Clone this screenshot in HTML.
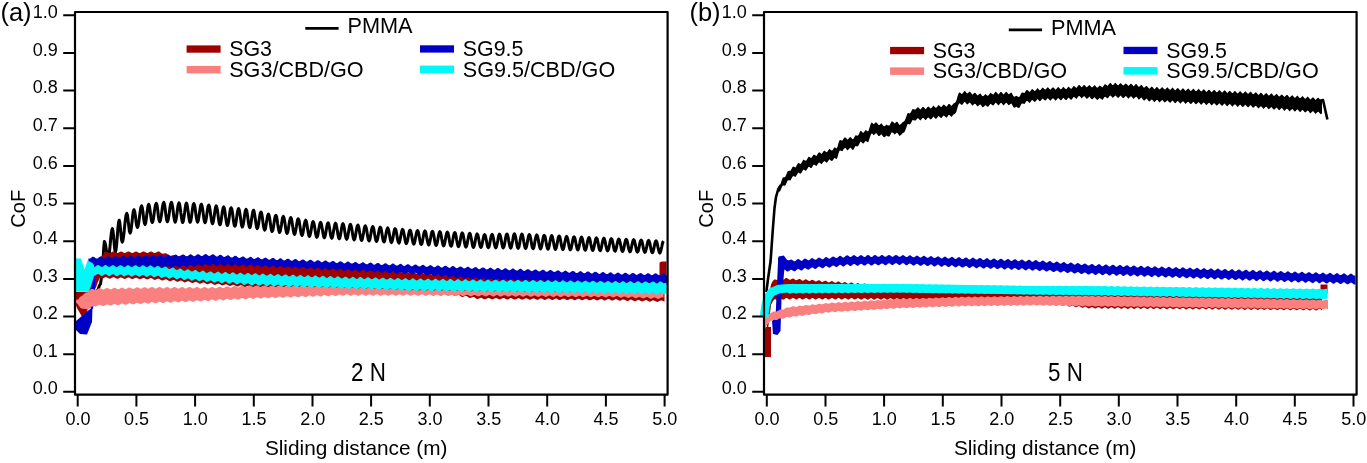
<!DOCTYPE html>
<html><head><meta charset="utf-8"><style>
html,body{margin:0;padding:0;background:#fff;width:1367px;height:463px;overflow:hidden}
svg{display:block;position:absolute;left:0;top:0;will-change:transform}
svg text{font-family:"Liberation Sans",sans-serif}
</style></head><body>
<svg width="1367" height="463" viewBox="0 0 1367 463">
<rect width="1367" height="463" fill="#fff"/>
<path d="M78,296 78.6,296 79.2,296 79.8,295.9 80.4,295.9 81,295.9 81.6,295.8 82.2,295.7 82.8,295.7 83.4,295.6 84,295.5 84.6,295.4 85.2,295.3 85.8,295.3 86.4,295.2 87,295.1 87.6,295.1 88.2,295.1 88.8,295 89.4,295 90,295 90.6,294.9 91.3,294.7 91.9,294.3 92.5,293.8 93.2,293.3 93.8,292.7 94.5,292.2 95.1,291.7 95.7,291.3 96.4,291.1 97,291 97.7,290.3 98.4,288.6 99.1,286.4 99.8,284.7 100.5,284 101.2,279 101.8,269 102.5,264 103.1,258.4 103.8,247.1 104.4,241.4 105,242.5 105.7,245.6 106.3,249.7 106.9,253.8 107.6,256.9 108.2,258 108.8,256.5 109.4,252.5 110,246.6 110.6,240 111.2,234.1 111.8,230.1 112.4,228.6 113,230.8 113.6,236.7 114.2,243.9 114.8,249.8 115.4,252 116,249.9 116.7,244.1 117.3,236.1 117.9,228.2 118.6,222.3 119.2,220.2 119.8,222.3 120.4,227.8 121,234.6 121.6,240.1 122.2,242.2 122.9,240.8 123.5,236.8 124.2,231 124.8,224.6 125.5,218.8 126.1,214.8 126.8,213.4 127.5,215.3 128.1,220.2 128.8,226.3 129.4,231.2 130.1,233.1 130.8,231.5 131.4,227.2 132.1,221.4 132.7,215.5 133.3,211.3 134,209.7 134.7,211.4 135.4,215.8 136,221.4 136.7,225.8 137.4,227.5 138.1,226.1 138.8,222.1 139.5,216.7 140.2,211.3 140.9,207.3 141.6,205.9 142.3,207.7 143,212.3 143.6,218.1 144.3,222.7 145,224.5 145.6,223.2 146.2,219.5 146.8,214.5 147.5,209.4 148.1,205.7 148.7,204.4 149.4,206.1 150.1,210.7 150.8,216.2 151.5,220.8 152.2,222.5 152.9,221.2 153.6,217.7 154.2,212.9 154.9,208.1 155.6,204.6 156.3,203.3 157,205.1 157.7,209.7 158.3,215.4 159,220 159.7,221.8 160.4,220.5 161.1,217 161.8,212.1 162.4,207.2 163.1,203.7 163.8,202.4 164.5,204.3 165.2,209.1 165.9,215.1 166.6,219.9 167.3,221.8 168,220.5 168.7,217 169.4,212.1 170,207.2 170.7,203.7 171.4,202.4 172,203.7 172.7,207.3 173.3,212.2 173.9,217.2 174.6,220.8 175.2,222.1 175.8,220.8 176.5,217.3 177.1,212.5 177.7,207.6 178.4,204.1 179,202.8 179.6,204.1 180.2,207.7 180.8,212.7 181.5,217.6 182.1,221.2 182.7,222.5 183.3,221.2 183.9,217.6 184.6,212.8 185.2,207.9 185.8,204.4 186.4,203.1 187,204.4 187.6,207.9 188.3,212.7 188.9,217.5 189.5,221 190.1,222.3 190.8,221 191.4,217.6 192,212.9 192.6,208.2 193.2,204.8 193.9,203.6 194.5,204.8 195.1,208.2 195.7,212.8 196.3,217.4 197,220.8 197.6,222.1 198.2,220.9 198.8,217.6 199.5,213.1 200.1,208.6 200.7,205.4 201.3,204.2 201.9,205.4 202.6,208.8 203.2,213.4 203.8,218.1 204.4,221.5 205,222.7 205.7,221.5 206.3,218.3 206.9,213.9 207.5,209.5 208.1,206.2 208.8,205.1 209.4,206.3 210,209.7 210.6,214.4 211.3,219.1 211.9,222.5 212.5,223.7 213.1,222.6 213.7,219.3 214.4,214.8 215,210.4 215.6,207.1 216.2,205.9 216.8,207.2 217.5,210.7 218.1,215.4 218.7,220.1 219.3,223.5 220,224.8 220.6,223.6 221.2,220.3 221.8,215.8 222.4,211.3 223.1,208 223.7,206.8 224.3,208.1 224.9,211.5 225.5,216.2 226.2,220.8 226.8,224.3 227.4,225.5 228,224.3 228.7,221.1 229.3,216.6 229.9,212.1 230.5,208.9 231.1,207.7 231.8,208.9 232.4,212.3 233,217 233.6,221.6 234.2,225 234.9,226.2 235.5,225.1 236.1,221.8 236.7,217.4 237.3,213 238,209.7 238.6,208.5 239.2,209.8 239.8,213.1 240.5,217.7 241.1,222.4 241.7,225.7 242.3,227 242.9,225.8 243.6,222.6 244.2,218.2 244.8,213.8 245.4,210.6 246,209.4 246.7,210.6 247.3,214 247.9,218.5 248.5,223.1 249.2,226.5 249.8,227.7 250.4,226.5 251,223.3 251.6,219 252.3,214.6 252.9,211.4 253.5,210.2 254.1,211.5 254.7,214.8 255.4,219.4 256,224 256.6,227.4 257.2,228.6 257.8,227.5 258.5,224.5 259.1,220.3 259.7,216.2 260.3,213.1 261,212 261.6,213.2 262.2,216.5 262.8,221.1 263.4,225.6 264.1,228.9 264.7,230.1 265.3,229.1 265.9,226.1 266.5,222.1 267.2,218 267.8,215.1 268.4,214 269,215.1 269.7,218.4 270.3,222.7 270.9,227.1 271.5,230.3 272.1,231.5 272.8,230.4 273.4,227.4 274,223.4 274.6,219.3 275.2,216.4 275.9,215.3 276.5,216.4 277.1,219.6 277.7,223.9 278.4,228.2 279,231.3 279.6,232.5 280.2,231.4 280.8,228.4 281.5,224.4 282.1,220.4 282.7,217.4 283.3,216.4 283.9,217.5 284.6,220.6 285.2,224.9 285.8,229.2 286.4,232.3 287,233.4 287.7,232.4 288.3,229.4 288.9,225.4 289.5,221.5 290.2,218.5 290.8,217.5 291.4,218.6 292,221.7 292.6,225.9 293.3,230.2 293.9,233.3 294.5,234.4 295.1,233.4 295.7,230.5 296.4,226.6 297,222.7 297.6,219.8 298.2,218.8 298.9,219.9 299.5,223 300.1,227.1 300.7,231.3 301.3,234.3 302,235.4 302.6,234.4 303.2,231.6 303.8,227.8 304.4,224 305.1,221.2 305.7,220.2 306.3,221.3 306.9,224.3 307.5,228.3 308.2,232.4 308.8,235.4 309.4,236.4 310,235.4 310.7,232.7 311.3,229 311.9,225.3 312.5,222.6 313.1,221.6 313.8,222.7 314.4,225.6 315,229.5 315.6,233.4 316.2,236.3 316.9,237.3 317.5,236.3 318.1,233.6 318.7,229.8 319.4,226.1 320,223.3 320.6,222.3 321.2,223.4 321.8,226.2 322.5,230.1 323.1,234 323.7,236.8 324.3,237.8 324.9,236.8 325.6,234.1 326.2,230.3 326.8,226.5 327.4,223.8 328.1,222.8 328.7,223.8 329.3,226.7 329.9,230.6 330.5,234.4 331.2,237.3 331.8,238.3 332.4,237.3 333,234.5 333.6,230.8 334.3,227 334.9,224.2 335.5,223.2 336.1,224.3 336.7,227.1 337.4,231 338,234.9 338.6,237.8 339.2,238.8 339.9,237.8 340.5,235 341.1,231.2 341.7,227.5 342.3,224.7 343,223.7 343.6,224.7 344.2,227.6 344.8,231.5 345.4,235.4 346.1,238.3 346.7,239.3 347.3,238.3 347.9,235.6 348.6,231.8 349.2,228.1 349.8,225.3 350.4,224.3 351,225.4 351.7,228.2 352.3,232.1 352.9,236 353.5,238.8 354.1,239.9 354.8,238.9 355.4,236.2 356,232.5 356.6,228.8 357.2,226 357.9,225 358.5,226.1 359.1,228.9 359.7,232.7 360.4,236.6 361,239.4 361.6,240.4 362.2,239.4 362.8,236.7 363.5,233.1 364.1,229.4 364.7,226.7 365.3,225.8 365.9,226.8 366.6,229.6 367.2,233.4 367.8,237.1 368.4,239.9 369.1,240.9 369.7,240 370.3,237.3 370.9,233.7 371.5,230.1 372.2,227.5 372.8,226.5 373.4,227.5 374,230.2 374.6,234 375.3,237.7 375.9,240.5 376.5,241.5 377.1,240.5 377.8,237.9 378.4,234.3 379,230.8 379.6,228.2 380.2,227.2 380.9,228.2 381.5,230.9 382.1,234.6 382.7,238.3 383.3,241 384,242 384.6,241.1 385.2,238.5 385.8,235 386.4,231.5 387.1,228.9 387.7,227.9 388.3,228.9 388.9,231.6 389.6,235.2 390.2,238.9 390.8,241.6 391.4,242.6 392,241.6 392.7,239.1 393.3,235.6 393.9,232.1 394.5,229.6 395.1,228.7 395.8,229.6 396.4,232.3 397,235.9 397.6,239.5 398.3,242.1 398.9,243.1 399.5,242.2 400.1,239.7 400.7,236.2 401.4,232.8 402,230.3 402.6,229.4 403.2,230.3 403.8,232.9 404.5,236.5 405.1,240.1 405.7,242.7 406.3,243.6 406.9,242.7 407.6,240.3 408.2,236.9 408.8,233.5 409.4,231 410.1,230.1 410.7,231 411.3,233.6 411.9,237.1 412.5,240.6 413.2,243.2 413.8,244.1 414.4,243.2 415,240.7 415.6,237.3 416.3,233.9 416.9,231.4 417.5,230.5 418.1,231.4 418.8,234 419.4,237.5 420,241 420.6,243.6 421.2,244.5 421.9,243.6 422.5,241.1 423.1,237.7 423.7,234.3 424.3,231.8 425,230.9 425.6,231.8 426.2,234.4 426.8,237.9 427.5,241.4 428.1,244 428.7,245 429.3,244 429.9,241.5 430.6,238.1 431.2,234.7 431.8,232.2 432.4,231.3 433,232.2 433.7,234.8 434.3,238.3 434.9,241.9 435.5,244.4 436.1,245.4 436.8,244.5 437.4,242 438,238.5 438.6,235.1 439.3,232.6 439.9,231.7 440.5,232.6 441.1,235.2 441.7,238.7 442.4,242.3 443,244.9 443.6,245.8 444.2,244.9 444.8,242.4 445.5,238.9 446.1,235.5 446.7,233 447.3,232.1 448,233 448.6,235.6 449.2,239.2 449.8,242.7 450.4,245.3 451.1,246.2 451.7,245.3 452.3,242.8 452.9,239.4 453.5,235.9 454.2,233.4 454.8,232.5 455.4,233.4 456,236 456.6,239.6 457.3,243.1 457.9,245.7 458.5,246.6 459.1,245.7 459.8,243.2 460.4,239.8 461,236.3 461.6,233.8 462.2,232.9 462.9,233.8 463.5,236.4 464.1,240 464.7,243.5 465.3,246.1 466,247.1 466.6,246.1 467.2,243.6 467.8,240.2 468.5,236.7 469.1,234.2 469.7,233.3 470.3,234.2 470.9,236.8 471.6,240.3 472.2,243.8 472.8,246.4 473.4,247.4 474,246.5 474.7,244 475.3,240.6 475.9,237.3 476.5,234.8 477.1,233.9 477.8,234.8 478.4,237.3 479,240.7 479.6,244.1 480.3,246.6 480.9,247.5 481.5,246.6 482.1,244.3 482.7,241 483.4,237.8 484,235.4 484.6,234.6 485.2,235.4 485.8,237.8 486.5,241.1 487.1,244.4 487.7,246.8 488.3,247.7 489,246.8 489.6,244.4 490.2,241 490.8,237.7 491.4,235.3 492.1,234.4 492.7,235.3 493.3,237.8 493.9,241.1 494.5,244.5 495.2,246.9 495.8,247.8 496.4,246.9 497,244.4 497.7,241 498.3,237.6 498.9,235.1 499.5,234.2 500.1,235.1 500.8,237.7 501.4,241.1 502,244.5 502.6,247 503.2,248 503.9,247 504.5,244.5 505.1,241 505.7,237.5 506.3,234.9 507,234 507.6,235 508.2,237.5 508.8,241.1 509.5,244.6 510.1,247.2 510.7,248.1 511.3,247.2 511.9,244.5 512.6,241 513.2,237.4 513.8,234.8 514.4,233.8 515,234.8 515.7,237.4 516.3,241.1 516.9,244.7 517.5,247.3 518.2,248.3 518.8,247.3 519.4,244.8 520,241.2 520.6,237.7 521.3,235.1 521.9,234.1 522.5,235.1 523.1,237.7 523.7,241.3 524.4,244.9 525,247.5 525.6,248.5 526.2,247.6 526.9,245 527.5,241.5 528.1,238 528.7,235.5 529.3,234.5 530,235.5 530.6,238.1 531.2,241.6 531.8,245.2 532.4,247.8 533.1,248.7 533.7,247.8 534.3,245.3 534.9,241.8 535.5,238.3 536.2,235.8 536.8,234.9 537.4,235.8 538,238.4 538.7,241.9 539.3,245.4 539.9,248 540.5,248.9 541.1,248 541.8,245.5 542.4,242.1 543,238.7 543.6,236.2 544.2,235.3 544.9,236.2 545.5,238.7 546.1,242.2 546.7,245.7 547.4,248.2 548,249.2 548.6,248.3 549.2,245.8 549.8,242.4 550.5,239 551.1,236.5 551.7,235.6 552.3,236.6 552.9,239.1 553.6,242.5 554.2,245.9 554.8,248.5 555.4,249.4 556,248.5 556.7,246 557.3,242.7 557.9,239.4 558.5,236.9 559.2,236 559.8,236.9 560.4,239.4 561,242.8 561.6,246.2 562.3,248.7 562.9,249.6 563.5,248.7 564.1,246.3 564.7,243 565.4,239.7 566,237.3 566.6,236.4 567.2,237.3 567.9,239.7 568.5,243.1 569.1,246.5 569.7,248.9 570.3,249.8 571,248.9 571.6,246.5 572.2,243.3 572.8,240 573.4,237.6 574.1,236.8 574.7,237.6 575.3,240.1 575.9,243.4 576.6,246.7 577.2,249.1 577.8,250 578.4,249.2 579,246.8 579.7,243.6 580.3,240.4 580.9,238 581.5,237.1 582.1,238 582.8,240.4 583.4,243.7 584,247 584.6,249.4 585.2,250.2 585.9,249.4 586.5,247.1 587.1,243.9 587.7,240.7 588.4,238.4 589,237.5 589.6,238.4 590.2,240.7 590.8,244 591.5,247.2 592.1,249.6 592.7,250.5 593.3,249.6 593.9,247.3 594.6,244.2 595.2,241 595.8,238.7 596.4,237.9 597.1,238.7 597.7,241.1 598.3,244.3 598.9,247.5 599.5,249.8 600.2,250.7 600.8,249.9 601.4,247.6 602,244.5 602.6,241.4 603.3,239.1 603.9,238.2 604.5,239.1 605.1,241.4 605.7,244.6 606.4,247.7 607,250.1 607.6,250.9 608.2,250.1 608.9,247.8 609.5,244.8 610.1,241.7 610.7,239.4 611.3,238.6 612,239.5 612.6,241.8 613.2,244.9 613.8,248 614.4,250.3 615.1,251.2 615.7,250.3 616.3,248.1 616.9,245.1 617.6,242 618.2,239.8 618.8,239 619.4,239.8 620,242.1 620.7,245.2 621.3,248.3 621.9,250.6 622.5,251.5 623.1,250.7 623.8,248.4 624.4,245.4 625,242.4 625.6,240.2 626.2,239.3 626.9,240.2 627.5,242.5 628.1,245.6 628.7,248.7 629.4,250.9 630,251.8 630.6,251 631.2,248.8 631.8,245.7 632.5,242.7 633.1,240.5 633.7,239.7 634.3,240.5 634.9,242.8 635.6,245.9 636.2,249 636.8,251.3 637.4,252.1 638.1,251.3 638.7,249.1 639.3,246.1 639.9,243.1 640.5,240.9 641.2,240.1 641.8,240.9 642.4,243.2 643,246.2 643.6,249.3 644.3,251.6 644.9,252.4 645.5,251.6 646.1,249.4 646.8,246.4 647.4,243.4 648,241.2 648.6,240.4 649.2,241.3 649.9,243.5 650.5,246.6 651.1,249.6 651.7,251.9 652.3,252.7 653,251.9 653.6,249.7 654.2,246.7 654.8,243.8 655.4,241.6 656.1,240.8 656.7,241.6 657.3,243.9 657.9,246.9 658.6,249.9 659.2,252.2 659.8,253 660.4,252.2 661,250 661.7,247.1 662.3,244.2 662.9,242 663.5,241.2" fill="none" stroke="#000" stroke-width="3" stroke-linejoin="round"/>
<path d="M84,292.1 85,292 86,292.1 87,292 88,291.4 89,288.8 90,286.2 91,284 92,281.9 93,280.2 94,278.4 95,275.1 96,271.3 97,267.3 98,263.4 99,260 100,257 101,256.6 102,256 103,254.9 104,253.3 105,251.7 106,251.5 107,251.7 108,252.3 109,252.9 110,253 111,252.6 112,252 113,251.6 114,251.6 115,252 116,252.6 117,253 118,252.9 119,252.3 120,251.7 121,251.5 122,251.7 123,252.3 124,252.9 125,253 126,252.6 127,252 128,251.6 129,251.6 130,252 131,252.6 132,253 133,252.9 134,252.3 135,251.7 136,251.5 137,251.7 138,252.3 139,252.9 140,253 141,252.6 142,252 143,251.6 144,251.6 145,252 146,252.6 147,253 148,252.9 149,252.3 150,251.7 151,251.5 152,251.7 153,252.3 154,252.9 155,253 156,252.6 157,252 158,251.6 159,251.6 160,252 161,252.9 162,253.6 163,253.7 164,253.5 165,253.2 166,253.2 167,253.8 168,254.7 169,255.5 170,255.9 171,255.8 172,255.5 173,255.1 174,255.2 175,255.7 176,256.4 177,256.8 178,256.8 179,256.3 180,255.8 181,255.6 182,256 183,256.6 184,257.2 185,257.4 186,257.1 187,256.6 188,256.2 189,256.3 190,256.8 191,257.5 192,257.9 193,257.9 194,257.4 195,256.9 196,256.7 197,257 198,257.7 199,258.3 200,258.5 201,258.2 202,257.6 203,257.2 204,257.3 205,257.8 206,258.5 207,258.9 208,258.8 209,258.3 210,257.8 211,257.6 212,257.9 213,258.5 214,259.1 215,259.3 216,259 217,258.5 218,258.1 219,258.1 220,258.6 221,259.3 222,259.7 223,259.6 224,259.2 225,258.6 226,258.4 227,258.7 228,259.4 229,260 230,260.1 231,259.8 232,259.3 233,258.9 234,258.9 235,259.4 236,260.1 237,260.5 238,260.5 239,260 240,259.5 241,259.3 242,259.6 243,260.2 244,260.8 245,261 246,260.7 247,260.1 248,259.7 249,259.8 250,260.3 251,260.9 252,261.4 253,261.3 254,260.8 255,260.3 256,260.1 257,260.4 258,261 259,261.6 260,261.8 261,261.5 262,260.9 263,260.5 264,260.6 265,261.1 266,261.8 267,262.2 268,262.1 269,261.6 270,261.1 271,260.9 272,261.2 273,261.9 274,262.4 275,262.6 276,262.3 277,261.8 278,261.4 279,261.4 280,261.9 281,262.6 282,263 283,262.9 284,262.5 285,261.9 286,261.7 287,262 288,262.7 289,263.3 290,263.4 291,263.1 292,262.6 293,262.2 294,262.3 295,262.8 296,263.4 297,263.8 298,263.8 299,263.3 300,262.8 301,262.6 302,262.9 303,263.5 304,264.1 305,264.3 306,264 307,263.4 308,263 309,263.1 310,263.6 311,264.2 312,264.7 313,264.6 314,264.1 315,263.6 316,263.4 317,263.7 318,264.3 319,264.9 320,265.1 321,264.8 322,264.2 323,263.9 324,263.9 325,264.4 326,265.1 327,265.5 328,265.4 329,264.9 330,264.4 331,264.2 332,264.5 333,265.2 334,265.7 335,265.9 336,265.6 337,265.1 338,264.7 339,264.7 340,265.2 341,265.9 342,266.3 343,266.2 344,265.8 345,265.2 346,265.1 347,265.5 348,266.1 349,266.8 350,267 351,266.8 352,266.2 353,265.9 354,266 355,266.6 356,267.3 357,267.7 358,267.7 359,267.3 360,266.8 361,266.7 362,267 363,267.7 364,268.3 365,268.6 366,268.3 367,267.8 368,267.5 369,267.6 370,268.1 371,268.8 372,269.3 373,269.3 374,268.9 375,268.4 376,268.2 377,268.6 378,269.3 379,269.9 380,270.1 381,269.9 382,269.4 383,269 384,269.1 385,269.7 386,270.4 387,270.9 388,270.8 389,270.4 390,269.9 391,269.8 392,270.2 393,270.8 394,271.5 395,271.7 396,271.5 397,271 398,270.6 399,270.7 400,271.3 401,272 402,272.4 403,272.4 404,272 405,271.5 406,271.4 407,271.7 408,272.4 409,273 410,273.3 411,273 412,272.5 413,272.1 414,272.2 415,272.7 416,273.4 417,273.8 418,273.7 419,273.2 420,272.7 421,272.5 422,272.8 423,273.5 424,274.1 425,274.2 426,273.9 427,273.4 428,273 429,273.1 430,273.6 431,274.2 432,274.7 433,274.6 434,274.1 435,273.6 436,273.4 437,273.7 438,274.4 439,274.9 440,275.1 441,274.8 442,274.3 443,273.9 444,273.9 445,274.5 446,275.1 447,275.5 448,275.5 449,275 450,274.5 451,274.3 452,274.6 453,275.2 454,275.8 455,276 456,275.7 457,275.2 458,274.8 459,274.8 460,275.3 461,276 462,276.4 463,276.4 464,275.9 465,275.4 466,275.2 467,275.5 468,276.1 469,276.7 470,276.9 471,276.6 472,276 473,275.7 474,275.7 475,276.2 476,276.9 477,277.3 478,277.2 479,276.8 480,276.2 481,276 482,276.3 483,276.9 484,277.5 485,277.7 486,277.3 487,276.8 488,276.3 489,276.4 490,276.9 491,277.5 492,277.9 493,277.8 494,277.3 495,276.7 496,276.5 497,276.8 498,277.4 499,278 500,278.2 501,277.8 502,277.3 503,276.8 504,276.9 505,277.4 506,278 507,278.4 508,278.3 509,277.8 510,277.2 511,277 512,277.3 513,277.9 514,278.5 515,278.7 516,278.3 517,277.8 518,277.3 519,277.4 520,277.9 521,278.5 522,278.9 523,278.8 524,278.3 525,277.7 526,277.5 527,277.8 528,278.4 529,279 530,279.2 531,278.8 532,278.3 533,277.8 534,277.9 535,278.4 536,279 537,279.4 538,279.3 539,278.8 540,278.2 541,278 542,278.3 543,278.9 544,279.4 545,279.6 546,279.2 547,278.6 548,278.2 549,278.2 550,278.7 551,279.3 552,279.7 553,279.6 554,279 555,278.5 556,278.3 557,278.5 558,279.1 559,279.7 560,279.8 561,279.5 562,278.9 563,278.4 564,278.4 565,278.9 566,279.5 567,279.9 568,279.8 569,279.3 570,278.7 571,278.5 572,278.8 573,279.3 574,279.9 575,280 576,279.7 577,279.1 578,278.7 579,278.7 580,279.1 581,279.8 582,280.1 583,280 584,279.5 585,279 586,278.7 587,279 588,279.6 589,280.1 590,280.3 591,279.9 592,279.3 593,278.9 594,278.9 595,279.4 596,280 597,280.4 598,280.3 599,279.8 600,279.2 601,279 602,279.2 603,279.8 604,280.4 605,280.5 606,280.2 607,279.6 608,279.1 609,279.2 610,279.6 611,280.2 612,280.6 613,280.5 614,280 615,279.4 616,279.2 617,279.5 618,280.1 619,280.6 620,280.7 621,280.4 622,279.8 623,279.4 624,279.4 625,279.9 626,280.5 627,280.9 628,280.7 629,280.2 630,279.7 631,279.4 632,279.7 633,280.3 634,280.8 635,281 636,280.6 637,280 638,279.6 639,279.6 640,280.1 641,280.7 642,281.1 643,281 644,280.5 645,279.9 646,279.7 647,279.9 648,280.5 649,281.1 650,281.2 651,280.9 652,280.3 653,279.8 654,279.9 655,280.3 656,281 657,281.3 658,281.2 659,280.7 660,280.1 661,279.9 662,280.2 663,280.8 664,281.3 664.5,281.4 664.5,301.7 664,301.6 663,301.1 662,300.6 661,300.4 660,300.7 659,301.3 658,301.8 657,301.9 656,301.5 655,300.9 654,300.4 653,300.3 652,300.8 651,301.3 650,301.7 649,301.5 648,301 647,300.3 646,300.1 645,300.3 644,300.8 643,301.3 642,301.4 641,301 640,300.4 639,299.9 638,299.9 637,300.3 636,300.9 635,301.2 634,301 633,300.5 632,299.9 631,299.6 630,299.8 629,300.4 628,300.9 627,301 626,300.6 625,299.9 624,299.4 623,299.4 622,299.8 621,300.4 620,300.7 619,300.6 618,300 617,299.4 616,299.1 615,299.3 614,299.9 613,300.4 612,300.6 611,300.2 610,299.6 609,299.1 608,299.1 607,299.5 606,300.1 605,300.5 604,300.4 603,299.8 602,299.2 601,299 600,299.2 599,299.8 598,300.3 597,300.4 596,300 595,299.4 594,299 593,299 592,299.4 591,300 590,300.3 589,300.2 588,299.7 587,299.1 586,298.8 585,299.1 584,299.6 583,300.1 582,300.3 581,299.9 580,299.3 579,298.8 578,298.8 577,299.3 576,299.8 575,300.2 574,300.1 573,299.5 572,298.9 571,298.7 570,298.9 569,299.5 568,300 567,300.1 566,299.8 565,299.1 564,298.7 563,298.7 562,299.1 561,299.7 560,300.1 559,299.9 558,299.4 557,298.8 556,298.5 555,298.8 554,299.3 553,299.9 552,300 551,299.6 550,299 549,298.5 548,298.5 547,299 546,299.6 545,299.9 544,299.8 543,299.2 542,298.6 541,298.4 540,298.6 539,299.2 538,299.7 537,299.8 536,299.5 535,298.8 534,298.4 533,298.4 532,298.8 531,299.4 530,299.8 529,299.6 528,299.1 527,298.5 526,298.2 525,298.5 524,299.1 523,299.6 522,299.7 521,299.3 520,298.7 519,298.2 518,298.2 517,298.7 516,299.3 515,299.6 514,299.5 513,298.9 512,298.4 511,298.1 510,298.3 509,298.9 508,299.4 507,299.5 506,299.2 505,298.6 504,298.1 503,298.1 502,298.5 501,299.1 500,299.5 499,299.3 498,298.8 497,298.2 496,298 495,298.2 494,298.8 493,299.3 492,299.4 491,299 490,298.4 489,298 488,297.9 487,298.4 486,299 485,299.3 484,299.2 483,298.7 482,298.1 481,297.8 480,298 479,298.5 478,298.9 477,298.9 476,298.4 475,297.7 474,297.1 473,296.9 472,297.3 471,297.7 470,298 469,297.7 468,297 467,296.3 466,295.9 465,296.1 464,296.5 463,296.9 462,296.9 461,296.4 460,295.7 459,295.1 458,294.9 457,295.3 456,295.7 455,296 454,295.7 453,295.1 452,294.3 451,294 450,294.1 449,294.5 448,294.9 447,294.9 446,294.4 445,293.7 444,293.1 443,293 442,293.3 441,293.8 440,294 439,293.8 438,293.1 437,292.5 436,292.1 435,292.3 434,292.8 433,293.2 432,293.3 431,292.8 430,292.1 429,291.6 428,291.5 427,291.9 426,292.4 425,292.6 424,292.4 423,291.8 422,291.1 421,290.8 420,291 419,291.5 418,291.9 417,291.9 416,291.5 415,290.8 414,290.2 413,290.2 412,290.5 411,291.1 410,291.4 409,291.2 408,290.7 407,290.1 406,289.8 405,290 404,290.5 403,291 402,291.1 401,290.7 400,290.1 399,289.6 398,289.5 397,290 396,290.5 395,290.8 394,290.7 393,290.1 392,289.5 391,289.2 390,289.4 389,290 388,290.5 387,290.6 386,290.2 385,289.5 384,289 383,289 382,289.4 381,290 380,290.3 379,290.1 378,289.6 377,288.9 376,288.7 375,288.9 374,289.4 373,289.9 372,290 371,289.6 370,289 369,288.5 368,288.4 367,288.8 366,289.4 365,289.7 364,289.6 363,289 362,288.4 361,288.1 360,288.3 359,288.9 358,289.3 357,289.4 356,289 355,288.4 354,287.9 353,287.9 352,288.3 351,288.8 350,289.2 349,289 348,288.4 347,287.8 346,287.5 345,287.7 344,288.3 343,288.8 342,289 341,288.6 340,288 339,287.5 338,287.5 337,287.9 336,288.5 335,288.9 334,288.7 333,288.2 332,287.6 331,287.3 330,287.6 329,288.2 328,288.7 327,288.8 326,288.4 325,287.8 324,287.3 323,287.3 322,287.8 321,288.4 320,288.7 319,288.6 318,288 317,287.4 316,287.2 315,287.4 314,288 313,288.5 312,288.6 311,288.2 310,287.6 309,287.2 308,287.2 307,287.6 306,288.2 305,288.5 304,288.4 303,287.9 302,287.3 301,287 300,287.2 299,287.8 298,288.3 297,288.4 296,288 295,287.4 294,286.9 293,286.9 292,287.4 291,287.9 290,288.3 289,288.1 288,287.6 287,287 286,286.7 285,286.9 284,287.5 283,288 282,288.1 281,287.7 280,287.1 279,286.6 278,286.6 277,287.1 276,287.6 275,288 274,287.8 273,287.3 272,286.7 271,286.4 270,286.6 269,287.2 268,287.7 267,287.8 266,287.4 265,286.8 264,286.3 263,286.3 262,286.8 261,287.3 260,287.7 259,287.5 258,287 257,286.4 256,286.1 255,286.3 254,286.9 253,287.4 252,287.5 251,287.1 250,286.5 249,286 248,285.9 247,286.3 246,286.8 245,287.1 244,286.9 243,286.3 242,285.6 241,285.3 240,285.5 239,286 238,286.5 237,286.5 236,286.1 235,285.4 234,284.9 233,284.8 232,285.2 231,285.7 230,286 229,285.8 228,285.2 227,284.5 226,284.2 225,284.4 224,284.9 223,285.3 222,285.4 221,284.9 220,284.3 219,283.7 218,283.7 217,284 216,284.6 215,284.9 214,284.7 213,284.1 212,283.4 211,283.1 210,283.2 209,283.7 208,284.2 207,284.2 206,283.8 205,283.1 204,282.6 203,282.5 202,282.9 201,283.4 200,283.7 199,283.4 198,282.8 197,282.2 196,281.8 195,282 194,282.5 193,282.9 192,283 191,282.5 190,281.9 189,281.3 188,281.2 187,281.6 186,282.1 185,282.4 184,282.2 183,281.6 182,280.9 181,280.6 180,280.7 179,281.2 178,281.7 177,281.7 176,281.3 175,280.6 174,280.1 173,280 172,280.4 171,280.9 170,281.2 169,280.9 168,280.3 167,279.7 166,279.3 165,279.5 164,280 163,280.4 162,280.5 161,280 160,279.4 159,278.8 158,278.7 157,279.1 156,279.6 155,279.9 154,279.7 153,279.1 152,278.4 151,278.1 150,278.2 149,278.8 148,279.3 147,279.4 146,279 145,278.4 144,277.9 143,277.9 142,278.4 141,278.9 140,279.3 139,279.1 138,278.6 137,278 136,277.7 135,277.9 134,278.5 133,279 132,279.1 131,278.7 130,278.1 129,277.6 128,277.6 127,278.1 126,278.6 125,279 124,278.8 123,278.3 122,277.7 121,277.4 120,277.6 119,278.2 118,278.7 117,278.8 116,278.4 115,277.8 114,277.3 113,277.3 112,277.8 111,278.3 110,278.7 109,278.5 108,278 107,277.4 106,277.1 105,277.3 104,277.9 103,278.4 102,278.5 101,278.1 100,277.5 99,279.4 98,281.8 97,284.6 96,287.6 95,289 94,289.9 93,290.3 92,290.7 91,294.8 90,299.4 89,304.3 88,308.5 87,312.3 86,315.6 85,315 84,314.6Z" fill="#9e0000"/>
<path d="M75.5,292 L85,292 L85,300 L86.5,316 L83,318.5 L77,308 L75.5,304Z" fill="#9e0000"/>
<path d="M659.5,263 Q660,261.5 662,261.5 H666.5 V280 H659.5Z" fill="#9e0000"/>
<path d="M76,321 L92.5,307 L92,322 L87,334.5 L80,334 L76,330Z" fill="#0000c4"/>
<path d="M90.5,308 L91,262 L95,262 L95,290 L93,309Z" fill="#0000c4"/>
<path d="M88.4,258.5 89.4,258.7 90.4,258.2 91.4,257.4 92.4,256.8 93.4,256.7 94.4,257.2 95.4,258 96.4,258.5 97.4,258.4 98.4,257.7 99.4,256.9 100.4,256.5 101.4,256.7 102.4,257.4 103.4,258.1 104.4,258.3 105.4,257.9 106.4,257.1 107.4,256.4 108.4,256.3 109.4,256.8 110.4,257.6 111.4,258.1 112.4,257.9 113.4,257.2 114.4,256.4 115.4,256 116.4,256.2 117.4,256.9 118.4,257.6 119.4,257.8 120.4,257.4 121.4,256.5 122.4,255.9 123.4,255.8 124.4,256.3 125.4,257.1 126.4,257.6 127.4,257.4 128.4,256.7 129.4,255.9 130.4,255.5 131.4,255.7 132.4,256.4 133.4,257.1 134.4,257.3 135.4,256.9 136.4,256 137.4,255.4 138.4,255.3 139.4,255.8 140.4,256.6 141.4,257 142.4,256.9 143.4,256.2 144.4,255.4 145.4,255 146.4,255.2 147.4,255.9 148.4,256.6 149.4,256.8 150.4,256.4 151.4,255.6 152.4,254.9 153.4,254.8 154.4,255.4 155.4,256.2 156.4,256.7 157.4,256.6 158.4,255.9 159.4,255.1 160.4,254.7 161.4,254.9 162.4,255.7 163.4,256.4 164.4,256.6 165.4,256.2 166.4,255.4 167.4,254.7 168.4,254.6 169.4,255.2 170.4,256 171.4,256.5 172.4,256.4 173.4,255.7 174.4,254.9 175.4,254.5 176.4,254.7 177.4,255.5 178.4,256.2 179.4,256.4 180.4,256 181.4,255.2 182.4,254.5 183.4,254.4 184.4,255 185.4,255.8 186.4,256.3 187.4,256.2 188.4,255.5 189.4,254.7 190.4,254.3 191.4,254.5 192.4,255.3 193.4,256 194.4,256.2 195.4,255.8 196.4,255 197.4,254.3 198.4,254.2 199.4,254.8 200.4,255.6 201.4,256.1 202.4,256 203.4,255.3 204.4,254.5 205.4,254.1 206.4,254.3 207.4,255.1 208.4,255.8 209.4,256 210.4,255.6 211.4,254.9 212.4,254.3 213.4,254.3 214.4,254.9 215.4,255.8 216.4,256.4 217.4,256.4 218.4,255.8 219.4,255.1 220.4,254.7 221.4,255.1 222.4,255.9 223.4,256.7 224.4,257 225.4,256.6 226.4,255.9 227.4,255.3 228.4,255.3 229.4,256 230.4,256.9 231.4,257.5 232.4,257.4 233.4,256.8 234.4,256.1 235.4,255.8 236.4,256.1 237.4,256.9 238.4,257.7 239.4,258.1 240.4,257.7 241.4,257 242.4,256.4 243.4,256.4 244.4,257 245.4,257.9 246.4,258.5 247.4,258.5 248.4,257.9 249.4,257.2 250.4,256.8 251.4,257.1 252.4,257.9 253.4,258.7 254.4,259 255.4,258.6 256.4,257.9 257.4,257.3 258.4,257.3 259.4,257.9 260.4,258.7 261.4,259.3 262.4,259.3 263.4,258.6 264.4,257.9 265.4,257.5 266.4,257.9 267.4,258.7 268.4,259.4 269.4,259.7 270.4,259.3 271.4,258.6 272.4,258 273.4,258 274.4,258.6 275.4,259.4 276.4,260 277.4,260 278.4,259.4 279.4,258.6 280.4,258.3 281.4,258.6 282.4,259.4 283.4,260.2 284.4,260.4 285.4,260.1 286.4,259.3 287.4,258.7 288.4,258.7 289.4,259.3 290.4,260.2 291.4,260.7 292.4,260.7 293.4,260.1 294.4,259.3 295.4,259 296.4,259.3 297.4,260.1 298.4,260.9 299.4,261.2 300.4,260.8 301.4,260 302.4,259.4 303.4,259.4 304.4,260 305.4,260.9 306.4,261.5 307.4,261.4 308.4,260.8 309.4,260.1 310.4,259.7 311.4,260 312.4,260.8 313.4,261.6 314.4,261.9 315.4,261.5 316.4,260.8 317.4,260.2 318.4,260.2 319.4,260.8 320.4,261.6 321.4,262.2 322.4,262.2 323.4,261.5 324.4,260.8 325.4,260.4 326.4,260.8 327.4,261.6 328.4,262.3 329.4,262.6 330.4,262.3 331.4,261.5 332.4,260.9 333.4,260.9 334.4,261.5 335.4,262.4 336.4,262.9 337.4,262.9 338.4,262.3 339.4,261.5 340.4,261.2 341.4,261.5 342.4,262.3 343.4,263.1 344.4,263.4 345.4,263 346.4,262.2 347.4,261.6 348.4,261.6 349.4,262.2 350.4,263.1 351.4,263.6 352.4,263.6 353.4,263 354.4,262.2 355.4,261.9 356.4,262.2 357.4,263 358.4,263.7 359.4,264 360.4,263.6 361.4,262.9 362.4,262.3 363.4,262.3 364.4,262.9 365.4,263.7 366.4,264.3 367.4,264.2 368.4,263.6 369.4,262.9 370.4,262.5 371.4,262.8 372.4,263.6 373.4,264.4 374.4,264.7 375.4,264.3 376.4,263.5 377.4,262.9 378.4,262.9 379.4,263.5 380.4,264.4 381.4,264.9 382.4,264.9 383.4,264.2 384.4,263.5 385.4,263.2 386.4,263.5 387.4,264.3 388.4,265 389.4,265.3 390.4,264.9 391.4,264.2 392.4,263.6 393.4,263.6 394.4,264.2 395.4,265 396.4,265.6 397.4,265.5 398.4,264.9 399.4,264.2 400.4,263.8 401.4,264.1 402.4,264.9 403.4,265.7 404.4,266 405.4,265.6 406.4,264.8 407.4,264.2 408.4,264.2 409.4,264.8 410.4,265.7 411.4,266.2 412.4,266.2 413.4,265.5 414.4,264.8 415.4,264.4 416.4,264.8 417.4,265.6 418.4,266.3 419.4,266.6 420.4,266.2 421.4,265.5 422.4,264.9 423.4,264.8 424.4,265.4 425.4,266.3 426.4,266.9 427.4,266.8 428.4,266.2 429.4,265.4 430.4,265.1 431.4,265.4 432.4,266.2 433.4,267 434.4,267.2 435.4,266.9 436.4,266.1 437.4,265.5 438.4,265.5 439.4,266.1 440.4,266.9 441.4,267.5 442.4,267.5 443.4,266.8 444.4,266.1 445.4,265.7 446.4,266 447.4,266.8 448.4,267.6 449.4,267.9 450.4,267.5 451.4,266.8 452.4,266.1 453.4,266.1 454.4,266.7 455.4,267.6 456.4,268.2 457.4,268.1 458.4,267.5 459.4,266.7 460.4,266.4 461.4,266.7 462.4,267.5 463.4,268.2 464.4,268.5 465.4,268.1 466.4,267.4 467.4,266.8 468.4,266.8 469.4,267.4 470.4,268.2 471.4,268.8 472.4,268.7 473.4,268.1 474.4,267.4 475.4,267 476.4,267.3 477.4,268.1 478.4,268.9 479.4,269.2 480.4,268.8 481.4,268 482.4,267.4 483.4,267.4 484.4,268 485.4,268.8 486.4,269.4 487.4,269.3 488.4,268.7 489.4,268 490.4,267.6 491.4,267.9 492.4,268.7 493.4,269.5 494.4,269.8 495.4,269.4 496.4,268.6 497.4,268 498.4,268 499.4,268.6 500.4,269.4 501.4,270 502.4,269.9 503.4,269.3 504.4,268.6 505.4,268.2 506.4,268.5 507.4,269.3 508.4,270.1 509.4,270.3 510.4,270 511.4,269.2 512.4,268.6 513.4,268.6 514.4,269.2 515.4,270 516.4,270.6 517.4,270.5 518.4,269.9 519.4,269.1 520.4,268.8 521.4,269.1 522.4,269.9 523.4,270.7 524.4,270.9 525.4,270.6 526.4,269.8 527.4,269.2 528.4,269.2 529.4,269.8 530.4,270.6 531.4,271.2 532.4,271.1 533.4,270.5 534.4,269.7 535.4,269.4 536.4,269.7 537.4,270.5 538.4,271.2 539.4,271.5 540.4,271.1 541.4,270.4 542.4,269.8 543.4,269.7 544.4,270.3 545.4,271.2 546.4,271.8 547.4,271.7 548.4,271.1 549.4,270.3 550.4,270 551.4,270.3 552.4,271.1 553.4,271.8 554.4,272.1 555.4,271.7 556.4,271 557.4,270.4 558.4,270.3 559.4,270.9 560.4,271.8 561.4,272.4 562.4,272.3 563.4,271.7 564.4,270.9 565.4,270.6 566.4,270.9 567.4,271.7 568.4,272.4 569.4,272.7 570.4,272.3 571.4,271.6 572.4,271 573.4,270.9 574.4,271.5 575.4,272.4 576.4,272.9 577.4,272.9 578.4,272.3 579.4,271.5 580.4,271.1 581.4,271.5 582.4,272.2 583.4,273 584.4,273.3 585.4,272.9 586.4,272.1 587.4,271.5 588.4,271.5 589.4,272.1 590.4,273 591.4,273.5 592.4,273.5 593.4,272.8 594.4,272.1 595.4,271.7 596.4,272 597.4,272.8 598.4,273.6 599.4,273.9 600.4,273.5 601.4,272.7 602.4,272.1 603.4,272.1 604.4,272.7 605.4,273.5 606.4,274.1 607.4,274.1 608.4,273.4 609.4,272.7 610.4,272.3 611.4,272.6 612.4,273.4 613.4,274.2 614.4,274.5 615.4,274.1 616.4,273.3 617.4,272.7 618.4,272.6 619.4,273.2 620.4,274 621.4,274.6 622.4,274.5 623.4,273.8 624.4,273.1 625.4,272.7 626.4,273 627.4,273.8 628.4,274.5 629.4,274.8 630.4,274.4 631.4,273.6 632.4,273 633.4,272.9 634.4,273.5 635.4,274.3 636.4,274.9 637.4,274.8 638.4,274.1 639.4,273.4 640.4,273 641.4,273.3 642.4,274 643.4,274.8 644.4,275.1 645.4,274.7 646.4,273.9 647.4,273.2 648.4,273.2 649.4,273.8 650.4,274.6 651.4,275.2 652.4,275.1 653.4,274.4 654.4,273.7 655.4,273.3 656.4,273.6 657.4,274.3 658.4,275.1 659.4,275.3 660.4,274.9 661.4,274.2 662.4,273.5 663.4,273.5 664.4,274.1 665.4,274.9 666.4,275.4 667,275.5 667,284.5 666.4,284.5 665.4,283.9 664.4,283.1 663.4,282.5 662.4,282.6 661.4,283.2 660.4,284 659.4,284.4 658.4,284.2 657.4,283.4 656.4,282.7 655.4,282.4 654.4,282.8 653.4,283.6 652.4,284.2 651.4,284.3 650.4,283.8 649.4,282.9 648.4,282.4 647.4,282.4 646.4,283.1 645.4,283.9 644.4,284.3 643.4,284 642.4,283.3 641.4,282.5 640.4,282.2 639.4,282.6 638.4,283.4 637.4,284.1 636.4,284.2 635.4,283.6 634.4,282.8 633.4,282.2 632.4,282.3 631.4,282.9 630.4,283.7 629.4,284.1 628.4,283.9 627.4,283.1 626.4,282.4 625.4,282.1 624.4,282.5 623.4,283.3 622.4,283.9 621.4,284 620.4,283.5 619.4,282.7 618.4,282.1 617.4,282.1 616.4,282.8 615.4,283.6 614.4,284 613.4,283.7 612.4,283 611.4,282.2 610.4,281.9 609.4,282.2 608.4,283 607.4,283.7 606.4,283.7 605.4,283.2 604.4,282.3 603.4,281.7 602.4,281.8 601.4,282.4 600.4,283.2 599.4,283.6 598.4,283.3 597.4,282.6 596.4,281.8 595.4,281.5 594.4,281.8 593.4,282.6 592.4,283.3 591.4,283.3 590.4,282.8 589.4,281.9 588.4,281.3 587.4,281.4 586.4,282 585.4,282.8 584.4,283.2 583.4,282.9 582.4,282.2 581.4,281.4 580.4,281.1 579.4,281.4 578.4,282.2 577.4,282.9 576.4,282.9 575.4,282.4 574.4,281.5 573.4,280.9 572.4,281 571.4,281.6 570.4,282.4 569.4,282.8 568.4,282.5 567.4,281.8 566.4,281 565.4,280.7 564.4,281 563.4,281.8 562.4,282.5 561.4,282.5 560.4,282 559.4,281.1 558.4,280.5 557.4,280.6 556.4,281.2 555.4,282 554.4,282.4 553.4,282.1 552.4,281.4 551.4,280.6 550.4,280.3 549.4,280.6 548.4,281.4 547.4,282.1 546.4,282.1 545.4,281.6 544.4,280.7 543.4,280.1 542.4,280.2 541.4,280.8 540.4,281.6 539.4,282 538.4,281.7 537.4,280.9 536.4,280.2 535.4,279.9 534.4,280.2 533.4,281 532.4,281.6 531.4,281.7 530.4,281.1 529.4,280.3 528.4,279.7 527.4,279.7 526.4,280.3 525.4,281.1 524.4,281.5 523.4,281.2 522.4,280.4 521.4,279.7 520.4,279.4 519.4,279.7 518.4,280.5 517.4,281.1 516.4,281.2 515.4,280.6 514.4,279.8 513.4,279.2 512.4,279.2 511.4,279.8 510.4,280.6 509.4,281 508.4,280.7 507.4,279.9 506.4,279.2 505.4,278.9 504.4,279.2 503.4,280 502.4,280.6 501.4,280.7 500.4,280.1 499.4,279.3 498.4,278.7 497.4,278.7 496.4,279.3 495.4,280.1 494.4,280.5 493.4,280.2 492.4,279.4 491.4,278.7 490.4,278.4 489.4,278.7 488.4,279.5 487.4,280.1 486.4,280.2 485.4,279.6 484.4,278.8 483.4,278.2 482.4,278.2 481.4,278.8 480.4,279.6 479.4,279.9 478.4,279.6 477.4,278.8 476.4,278 475.4,277.6 474.4,277.9 473.4,278.7 472.4,279.2 471.4,279.3 470.4,278.6 469.4,277.8 468.4,277.1 467.4,277.1 466.4,277.7 465.4,278.4 464.4,278.7 463.4,278.4 462.4,277.6 461.4,276.8 460.4,276.4 459.4,276.7 458.4,277.4 457.4,278 456.4,278 455.4,277.4 454.4,276.5 453.4,275.9 452.4,275.9 451.4,276.5 450.4,277.2 449.4,277.5 448.4,277.2 447.4,276.4 446.4,275.6 445.4,275.2 444.4,275.5 443.4,276.2 442.4,276.8 441.4,276.8 440.4,276.2 439.4,275.3 438.4,274.7 437.4,274.7 436.4,275.2 435.4,276 434.4,276.3 433.4,276 432.4,275.2 431.4,274.3 430.4,274 429.4,274.3 428.4,275 427.4,275.6 426.4,275.6 425.4,275 424.4,274.1 423.4,273.5 422.4,273.5 421.4,274 420.4,274.8 419.4,275.1 418.4,274.8 417.4,274 416.4,273.1 415.4,272.8 414.4,273.1 413.4,273.8 412.4,274.4 411.4,274.4 410.4,273.8 409.4,273 408.4,272.4 407.4,272.4 406.4,273 405.4,273.7 404.4,274.1 403.4,273.8 402.4,273 401.4,272.2 400.4,271.9 399.4,272.2 398.4,273 397.4,273.6 396.4,273.6 395.4,273.1 394.4,272.2 393.4,271.6 392.4,271.6 391.4,272.2 390.4,272.9 389.4,273.3 388.4,273 387.4,272.2 386.4,271.4 385.4,271.1 384.4,271.5 383.4,272.2 382.4,272.8 381.4,272.9 380.4,272.3 379.4,271.4 378.4,270.8 377.4,270.8 376.4,271.4 375.4,272.2 374.4,272.5 373.4,272.2 372.4,271.5 371.4,270.7 370.4,270.3 369.4,270.7 368.4,271.4 367.4,272 366.4,272.1 365.4,271.5 364.4,270.6 363.4,270 362.4,270 361.4,270.6 360.4,271.4 359.4,271.7 358.4,271.5 357.4,270.7 356.4,269.9 355.4,269.5 354.4,269.9 353.4,270.6 352.4,271.2 351.4,271.3 350.4,270.7 349.4,269.8 348.4,269.2 347.4,269.2 346.4,269.8 345.4,270.6 344.4,271 343.4,270.7 342.4,269.9 341.4,269.1 340.4,268.8 339.4,269.1 338.4,269.9 337.4,270.5 336.4,270.5 335.4,270 334.4,269.1 333.4,268.5 332.4,268.5 331.4,269.1 330.4,269.9 329.4,270.3 328.4,270 327.4,269.2 326.4,268.4 325.4,268.1 324.4,268.4 323.4,269.2 322.4,269.8 321.4,269.8 320.4,269.3 319.4,268.4 318.4,267.8 317.4,267.8 316.4,268.4 315.4,269.2 314.4,269.5 313.4,269.3 312.4,268.5 311.4,267.7 310.4,267.4 309.4,267.7 308.4,268.5 307.4,269.1 306.4,269.1 305.4,268.5 304.4,267.7 303.4,267.1 302.4,267.1 301.4,267.7 300.4,268.5 299.4,268.8 298.4,268.5 297.4,267.8 296.4,267 295.4,266.7 294.4,267 293.4,267.7 292.4,268.4 291.4,268.4 290.4,267.8 289.4,267 288.4,266.4 287.4,266.4 286.4,267 285.4,267.7 284.4,268.1 283.4,267.8 282.4,267.1 281.4,266.3 280.4,265.9 279.4,266.3 278.4,267 277.4,267.7 276.4,267.7 275.4,267.1 274.4,266.3 273.4,265.7 272.4,265.7 271.4,266.3 270.4,267 269.4,267.4 268.4,267.1 267.4,266.3 266.4,265.5 265.4,265.2 264.4,265.6 263.4,266.3 262.4,266.9 261.4,267 260.4,266.4 259.4,265.6 258.4,265 257.4,265 256.4,265.6 255.4,266.3 254.4,266.7 253.4,266.4 252.4,265.6 251.4,264.8 250.4,264.5 249.4,264.9 248.4,265.7 247.4,266.3 246.4,266.4 245.4,265.9 244.4,265 243.4,264.5 242.4,264.5 241.4,265.2 240.4,266 239.4,266.4 238.4,266.1 237.4,265.4 236.4,264.6 235.4,264.3 234.4,264.7 233.4,265.5 232.4,266.1 231.4,266.2 230.4,265.7 229.4,264.9 228.4,264.3 227.4,264.3 226.4,265 225.4,265.8 224.4,266.2 223.4,265.9 222.4,265.2 221.4,264.4 220.4,264.1 219.4,264.5 218.4,265.3 217.4,265.9 216.4,266 215.4,265.5 214.4,264.7 213.4,264.1 212.4,264.2 211.4,264.8 210.4,265.6 209.4,266 208.4,265.8 207.4,265.1 206.4,264.4 205.4,264.2 204.4,264.6 203.4,265.5 202.4,266.2 201.4,266.3 200.4,265.9 199.4,265.1 198.4,264.6 197.4,264.7 196.4,265.4 195.4,266.2 194.4,266.7 193.4,266.5 192.4,265.8 191.4,265.1 190.4,264.9 189.4,265.3 188.4,266.1 187.4,266.9 186.4,267 185.4,266.5 184.4,265.8 183.4,265.2 182.4,265.4 181.4,266 180.4,266.9 179.4,267.4 178.4,267.2 177.4,266.5 176.4,265.8 175.4,265.5 174.4,266 173.4,266.8 172.4,267.5 171.4,267.7 170.4,267.2 169.4,266.4 168.4,265.9 167.4,266 166.4,266.7 165.4,267.6 164.4,268 163.4,267.9 162.4,267.2 161.4,266.5 160.4,266.3 159.4,266.8 158.4,267.6 157.4,268.4 156.4,268.5 155.4,268.1 154.4,267.3 153.4,266.8 152.4,267 151.4,267.7 150.4,268.5 149.4,269 148.4,268.8 147.4,268 146.4,267.3 145.4,267 144.4,267.4 143.4,268.2 142.4,268.9 141.4,269 140.4,268.4 139.4,267.6 138.4,267.1 137.4,267.1 136.4,267.8 135.4,268.6 134.4,269 133.4,268.8 132.4,268 131.4,267.3 130.4,267 129.4,267.4 128.4,268.2 127.4,268.9 126.4,269 125.4,268.4 124.4,267.6 123.4,267.1 122.4,267.1 121.4,267.8 120.4,268.6 119.4,269 118.4,268.8 117.4,268 116.4,267.3 115.4,267 114.4,267.4 113.4,268.2 112.4,268.9 111.4,269 110.4,268.4 109.4,267.6 108.4,267.1 107.4,267.1 106.4,267.8 105.4,268.6 104.4,269 103.4,268.8 102.4,268 101.4,267.3 100.4,267 99.4,267.4 98.4,268.2 97.4,268.9 96.4,269 95.4,268.4 94.4,267.6 93.4,267.1 92.4,267.1 91.4,267.8 90.4,268.6 89.4,269 88.4,268.8Z" fill="#0000c4"/>
<path d="M76,299.7 77,299.5 78,299.7 79,298.4 80,296.8 81,296.6 82,295.8 83,294.9 84,294.1 85,293.1 86,292.5 87,292.4 88,292 89,291.1 90,289.8 91,289.2 92,288.8 93,289 94,289.5 95,289.9 96,289.9 97,289.5 98,288.8 99,288.3 100,288.2 101,288.6 102,289.2 103,289.5 104,289.4 105,288.8 106,288.2 107,287.9 108,288.2 109,288.7 110,289.2 111,289.3 112,289 113,288.3 114,287.9 115,287.8 116,288.3 117,288.9 118,289.2 119,289 120,288.5 121,287.9 122,287.6 123,287.8 124,288.4 125,288.9 126,289 127,288.6 128,288 129,287.5 130,287.5 131,287.9 132,288.5 133,288.9 134,288.7 135,288.2 136,287.6 137,287.3 138,287.5 139,288.1 140,288.6 141,288.7 142,288.3 143,287.7 144,287.2 145,287.2 146,287.6 147,288.2 148,288.5 149,288.4 150,287.8 151,287.2 152,287 153,287.2 154,287.8 155,288.4 156,288.5 157,288.1 158,287.5 159,287.1 160,287.1 161,287.5 162,288.1 163,288.5 164,288.4 165,287.8 166,287.2 167,287 168,287.2 169,287.8 170,288.4 171,288.5 172,288.1 173,287.5 174,287.1 175,287.1 176,287.5 177,288.1 178,288.5 179,288.4 180,287.8 181,287.2 182,287 183,287.2 184,287.8 185,288.4 186,288.5 187,288.1 188,287.5 189,287.1 190,287.1 191,287.5 192,288.1 193,288.5 194,288.4 195,287.8 196,287.2 197,287 198,287.2 199,287.8 200,288.4 201,288.5 202,288.1 203,287.5 204,287.1 205,287.1 206,287.5 207,288.1 208,288.5 209,288.4 210,287.8 211,287.2 212,286.9 213,287.1 214,287.7 215,288.2 216,288.3 217,287.9 218,287.2 219,286.7 220,286.7 221,287.1 222,287.7 223,288 224,287.8 225,287.3 226,286.6 227,286.4 228,286.6 229,287.1 230,287.6 231,287.7 232,287.3 233,286.7 234,286.2 235,286.1 236,286.5 237,287.1 238,287.4 239,287.3 240,286.7 241,286.1 242,285.8 243,286 244,286.6 245,287 246,287.1 247,286.7 248,286.1 249,285.6 250,285.6 251,286 252,286.6 253,287 254,286.9 255,286.3 256,285.7 257,285.5 258,285.7 259,286.3 260,286.9 261,287 262,286.6 263,286 264,285.6 265,285.6 266,286 267,286.6 268,287 269,286.9 270,286.3 271,285.7 272,285.5 273,285.7 274,286.3 275,286.9 276,287 277,286.6 278,286 279,285.6 280,285.6 281,286 282,286.6 283,287 284,286.9 285,286.3 286,285.7 287,285.5 288,285.7 289,286.3 290,286.9 291,287 292,286.6 293,286 294,285.6 295,285.6 296,286 297,286.6 298,287 299,286.9 300,286.3 301,285.8 302,285.5 303,285.8 304,286.4 305,287 306,287.1 307,286.8 308,286.2 309,285.8 310,285.8 311,286.3 312,286.9 313,287.3 314,287.2 315,286.7 316,286.1 317,285.9 318,286.1 319,286.8 320,287.3 321,287.5 322,287.1 323,286.5 324,286.1 325,286.1 326,286.6 327,287.2 328,287.6 329,287.5 330,287 331,286.4 332,286.2 333,286.5 334,287.1 335,287.6 336,287.8 337,287.4 338,286.9 339,286.4 340,286.5 341,286.9 342,287.6 343,287.9 344,287.8 345,287.3 346,286.8 347,286.6 348,286.9 349,287.5 350,288 351,288.2 352,287.9 353,287.3 354,286.9 355,286.9 356,287.4 357,288.1 358,288.5 359,288.4 360,287.9 361,287.3 362,287.1 363,287.4 364,288 365,288.6 366,288.8 367,288.4 368,287.9 369,287.5 370,287.5 371,288 372,288.6 373,289 374,288.9 375,288.4 376,287.9 377,287.7 378,288 379,288.6 380,289.2 381,289.3 382,289 383,288.4 384,288 385,288.1 386,288.5 387,289.2 388,289.6 389,289.5 390,289 391,288.5 392,288.3 393,288.5 394,289.2 395,289.7 396,289.9 397,289.6 398,289 399,288.6 400,288.6 401,289.1 402,289.8 403,290.1 404,290.1 405,289.6 406,289 407,288.8 408,289.1 409,289.7 410,290.3 411,290.4 412,290.1 413,289.5 414,289.1 415,289.1 416,289.6 417,290.2 418,290.6 419,290.5 420,289.9 421,289.4 422,289.1 423,289.4 424,290 425,290.5 426,290.7 427,290.3 428,289.8 429,289.3 430,289.3 431,289.8 432,290.4 433,290.8 434,290.7 435,290.2 436,289.6 437,289.4 438,289.6 439,290.2 440,290.8 441,290.9 442,290.6 443,290 444,289.5 445,289.6 446,290 447,290.6 448,291 449,290.9 450,290.4 451,289.8 452,289.6 453,289.9 454,290.4 455,291 456,291.1 457,290.8 458,290.2 459,289.8 460,289.8 461,290.2 462,290.9 463,291.2 464,291.1 465,290.6 466,290 467,289.8 468,290.1 469,290.7 470,291.2 471,291.4 472,291 473,290.4 474,290 475,290 476,290.5 477,291.1 478,291.5 479,291.3 480,290.8 481,290.3 482,290 483,290.3 484,290.9 485,291.4 486,291.5 487,291.2 488,290.6 489,290.1 490,290.1 491,290.6 492,291.2 493,291.6 494,291.5 495,290.9 496,290.4 497,290.1 498,290.4 499,291 500,291.5 501,291.6 502,291.3 503,290.7 504,290.2 505,290.3 506,290.7 507,291.3 508,291.7 509,291.6 510,291.1 511,290.5 512,290.2 513,290.5 514,291.1 515,291.6 516,291.8 517,291.4 518,290.8 519,290.4 520,290.4 521,290.8 522,291.4 523,291.8 524,291.7 525,291.2 526,290.6 527,290.3 528,290.6 529,291.2 530,291.7 531,291.9 532,291.5 533,290.9 534,290.5 535,290.5 536,290.9 537,291.5 538,291.9 539,291.8 540,291.3 541,290.7 542,290.5 543,290.7 544,291.3 545,291.8 546,292 547,291.6 548,291 549,290.6 550,290.6 551,291 552,291.7 553,292 554,291.9 555,291.4 556,290.8 557,290.6 558,290.8 559,291.4 560,291.9 561,292.1 562,291.7 563,291.1 564,290.7 565,290.7 566,291.2 567,291.8 568,292.1 569,292 570,291.5 571,290.9 572,290.7 573,290.9 574,291.5 575,292.1 576,292.2 577,291.8 578,291.2 579,290.8 580,290.8 581,291.3 582,291.9 583,292.2 584,292.1 585,291.6 586,291 587,290.8 588,291 589,291.6 590,292.2 591,292.3 592,292 593,291.4 594,290.9 595,290.9 596,291.4 597,292 598,292.4 599,292.2 600,291.7 601,291.1 602,290.9 603,291.2 604,291.7 605,292.3 606,292.4 607,292.1 608,291.5 609,291 610,291 611,291.5 612,292.1 613,292.5 614,292.3 615,291.8 616,291.3 617,291 618,291.3 619,291.9 620,292.4 621,292.5 622,292.2 623,291.6 624,291.2 625,291.2 626,291.6 627,292.2 628,292.6 629,292.5 630,292 631,291.4 632,291.2 633,291.4 634,292 635,292.6 636,292.7 637,292.3 638,291.8 639,291.3 640,291.3 641,291.8 642,292.4 643,292.8 644,292.7 645,292.1 646,291.6 647,291.3 648,291.6 649,292.2 650,292.7 651,292.9 652,292.5 653,291.9 654,291.5 655,291.5 656,291.9 657,292.6 658,292.9 659,292.8 660,292.3 661,291.7 662,291.5 663,291.7 663.5,292 663.5,297.6 663,297.4 662,297.2 661,297.6 660,298.3 659,298.8 658,298.9 657,298.5 656,297.9 655,297.4 654,297.4 653,297.8 652,298.4 651,298.7 650,298.5 649,298 648,297.3 647,297.1 646,297.3 645,297.8 644,298.3 643,298.4 642,298 641,297.4 640,296.9 639,296.9 638,297.3 637,297.9 636,298.2 635,298 634,297.5 633,296.8 632,296.6 631,296.8 630,297.3 629,297.8 628,297.9 627,297.5 626,296.9 625,296.4 624,296.4 623,296.8 622,297.4 621,297.7 620,297.5 619,297 618,296.3 617,296.1 616,296.3 615,296.8 614,297.3 613,297.5 612,297.1 611,296.5 610,296 609,296 608,296.5 607,297.1 606,297.4 605,297.3 604,296.7 603,296.2 602,295.9 601,296.1 600,296.7 599,297.2 598,297.3 597,297 596,296.4 595,295.9 594,295.9 593,296.3 592,296.9 591,297.3 590,297.2 589,296.6 588,296 587,295.8 586,296 585,296.6 584,297.1 583,297.2 582,296.9 581,296.2 580,295.8 579,295.8 578,296.2 577,296.8 576,297.2 575,297 574,296.5 573,295.9 572,295.6 571,295.9 570,296.5 569,297 568,297.1 567,296.7 566,296.1 565,295.7 564,295.6 563,296.1 562,296.7 561,297 560,296.9 559,296.4 558,295.8 557,295.5 556,295.8 555,296.3 554,296.9 553,297 552,296.6 551,296 550,295.5 549,295.5 548,296 547,296.6 546,296.9 545,296.8 544,296.2 543,295.7 542,295.4 541,295.6 540,296.2 539,296.7 538,296.9 537,296.5 536,295.9 535,295.4 534,295.4 533,295.9 532,296.4 531,296.8 530,296.7 529,296.1 528,295.5 527,295.3 526,295.5 525,296.1 524,296.6 523,296.7 522,296.4 521,295.8 520,295.3 519,295.3 518,295.7 517,296.3 516,296.7 515,296.5 514,296 513,295.4 512,295.2 511,295.4 510,296 509,296.5 508,296.6 507,296.2 506,295.6 505,295.2 504,295.2 503,295.6 502,296.2 501,296.6 500,296.4 499,295.9 498,295.3 497,295 496,295.3 495,295.9 494,296.4 493,296.5 492,296.1 491,295.5 490,295 489,295 488,295.5 487,296.1 486,296.4 485,296.3 484,295.8 483,295.2 482,294.9 481,295.2 480,295.7 479,296.2 478,296.4 477,296 476,295.4 475,294.9 474,294.9 473,295.4 472,296 471,296.3 470,296.2 469,295.6 468,295 467,294.8 466,295 465,295.6 464,296.1 463,296.2 462,295.9 461,295.3 460,294.8 459,294.8 458,295.2 457,295.8 456,296.2 455,296 454,295.5 453,294.9 452,294.7 451,294.9 450,295.5 449,296 448,296.1 447,295.7 446,295.1 445,294.7 444,294.6 443,295.1 442,295.7 441,296 440,295.9 439,295.4 438,294.8 437,294.5 436,294.8 435,295.3 434,295.9 433,296 432,295.6 431,295 430,294.5 429,294.5 428,295 427,295.6 426,295.9 425,295.8 424,295.2 423,294.6 422,294.4 421,294.6 420,295.2 419,295.7 418,295.8 417,295.5 416,294.9 415,294.4 414,294.4 413,294.8 412,295.4 411,295.8 410,295.7 409,295.1 408,294.5 407,294.3 406,294.5 405,295.1 404,295.7 403,295.8 402,295.4 401,294.8 400,294.4 399,294.4 398,294.8 397,295.4 396,295.8 395,295.7 394,295.1 393,294.5 392,294.3 391,294.5 390,295.1 389,295.7 388,295.8 387,295.4 386,294.8 385,294.4 384,294.4 383,294.8 382,295.4 381,295.8 380,295.7 379,295.1 378,294.5 377,294.3 376,294.5 375,295.1 374,295.7 373,295.8 372,295.4 371,294.8 370,294.4 369,294.4 368,294.8 367,295.4 366,295.8 365,295.7 364,295.1 363,294.5 362,294.3 361,294.5 360,295.1 359,295.7 358,295.8 357,295.4 356,294.8 355,294.4 354,294.4 353,294.8 352,295.4 351,295.8 350,295.7 349,295.1 348,294.5 347,294.3 346,294.5 345,295.1 344,295.7 343,295.8 342,295.5 341,295 340,294.5 339,294.6 338,295 337,295.7 336,296.1 335,296 334,295.5 333,294.9 332,294.7 331,295 330,295.6 329,296.2 328,296.3 327,296 326,295.4 325,295 324,295.1 323,295.5 322,296.2 321,296.6 320,296.5 319,296 318,295.4 317,295.2 316,295.5 315,296.1 314,296.7 313,296.8 312,296.5 311,295.9 310,295.5 309,295.6 308,296 307,296.7 306,297.1 305,297 304,296.5 303,295.9 302,295.7 301,296 300,296.6 299,297.2 298,297.3 297,297 296,296.4 295,296 294,296 293,296.5 292,297.2 291,297.6 290,297.5 289,297 288,296.4 287,296.2 286,296.5 285,297.1 284,297.7 283,297.8 282,297.5 281,296.9 280,296.5 279,296.5 278,297 277,297.7 276,298.1 275,298 274,297.5 273,296.9 272,296.7 271,297 270,297.6 269,298.2 268,298.3 267,298 266,297.4 265,297 264,297 263,297.5 262,298.2 261,298.6 260,298.5 259,298 258,297.4 257,297.2 256,297.5 255,298.2 254,298.8 253,298.9 252,298.6 251,298.1 250,297.7 249,297.7 248,298.2 247,298.9 246,299.3 245,299.2 244,298.7 243,298.2 242,298 241,298.3 240,298.9 239,299.5 238,299.7 237,299.4 236,298.8 235,298.4 234,298.5 233,299 232,299.6 231,300 230,300 229,299.5 228,298.9 227,298.8 226,299 225,299.7 224,300.3 223,300.4 222,300.1 221,299.6 220,299.2 219,299.2 218,299.7 217,300.4 216,300.8 215,300.7 214,300.2 213,299.7 212,299.5 211,299.8 210,300.4 209,301 208,301.2 207,300.9 206,300.3 205,299.9 204,300 203,300.5 202,301.1 201,301.5 200,301.5 199,301 198,300.4 197,300.2 196,300.5 195,301.1 194,301.7 193,301.9 192,301.5 191,301 190,300.6 189,300.6 188,301.1 187,301.7 186,302.1 185,302.1 184,301.6 183,301 182,300.8 181,301.1 180,301.7 179,302.3 178,302.5 177,302.1 176,301.6 175,301.2 174,301.2 173,301.7 172,302.3 171,302.7 170,302.7 169,302.2 168,301.6 167,301.4 166,301.7 165,302.3 164,302.9 163,303.1 162,302.7 161,302.2 160,301.8 159,301.8 158,302.3 157,302.9 156,303.3 155,303.3 154,302.8 153,302.2 152,302 151,302.3 150,302.9 149,303.5 148,303.7 147,303.4 146,302.8 145,302.4 144,302.5 143,303 142,303.6 141,304.1 140,304 139,303.5 138,303 137,302.8 136,303.1 135,303.7 134,304.3 133,304.5 132,304.2 131,303.6 130,303.2 129,303.3 128,303.8 127,304.4 126,304.8 125,304.8 124,304.3 123,303.8 122,303.6 121,303.9 120,304.5 119,305.1 118,305.3 117,305 116,304.4 115,304 114,304.1 113,304.6 112,305.2 111,305.6 110,305.6 109,305.1 108,304.6 107,304.4 106,304.7 105,305.3 104,305.9 103,306.1 102,305.8 101,305.2 100,304.8 99,304.9 98,305.4 97,306 96,306.4 95,306.4 94,306.3 93,306.2 92,306.5 91,307.2 90,308.3 89,309.1 88,309.5 87,309.4 86,309 85,308.8 84,309.1 83,308.8 82,308.6 81,308.2 80,307.4 79,306 78,304.5 77,303.4 76,302.7Z" fill="#fa8080"/>
<path d="M75.5,258.5 L81,258.5 L84.5,269.5 L87.5,260.5 L92.5,263 L94,265 L94,276 L91,286 L89,291.7 L75.5,291.7Z" fill="#00f8f8"/>
<path d="M89,265.7 90,265.1 91,265.1 92,265.7 93,266.5 94,267 95,266.8 96,266.1 97,265.3 98,265 99,265.3 100,266.1 101,266.8 102,267 103,266.5 104,265.7 105,265.1 106,265.1 107,265.7 108,266.5 109,267 110,266.8 111,266.1 112,265.4 113,265.1 114,265.4 115,266.2 116,266.9 117,267 118,266.6 119,265.8 120,265.2 121,265.2 122,265.8 123,266.6 124,267.1 125,266.9 126,266.2 127,265.4 128,265.1 129,265.4 130,266.2 131,266.9 132,267.1 133,266.6 134,265.8 135,265.2 136,265.2 137,265.8 138,266.7 139,267.1 140,267 141,266.3 142,265.5 143,265.2 144,265.5 145,266.3 146,267 147,267.2 148,266.7 149,265.9 150,265.3 151,265.4 152,266.1 153,267 154,267.5 155,267.4 156,266.8 157,266.1 158,265.9 159,266.3 160,267.2 161,268 162,268.2 163,267.8 164,267.1 165,266.6 166,266.7 167,267.5 168,268.4 169,269 170,269 171,268.4 172,267.8 173,267.6 174,268 175,268.9 176,269.8 177,270.1 178,269.7 179,269.1 180,268.6 181,268.7 182,269.4 183,270.3 184,270.9 185,270.8 186,270.2 187,269.5 188,269.2 189,269.7 190,270.5 191,271.3 192,271.6 193,271.2 194,270.5 195,270 196,270.1 197,270.8 198,271.7 199,272.3 200,272.2 201,271.6 202,270.9 203,270.6 204,271.1 205,271.9 206,272.7 207,273 208,272.6 209,271.9 210,271.4 211,271.4 212,272.1 213,272.9 214,273.4 215,273.3 216,272.7 217,271.9 218,271.6 219,272 220,272.8 221,273.6 222,273.8 223,273.4 224,272.6 225,272 226,272.1 227,272.7 228,273.6 229,274.1 230,274 231,273.3 232,272.6 233,272.3 234,272.7 235,273.5 236,274.2 237,274.4 238,274 239,273.2 240,272.7 241,272.7 242,273.4 243,274.2 244,274.7 245,274.6 246,273.9 247,273.2 248,272.9 249,273.3 250,274.1 251,274.8 252,275.1 253,274.6 254,273.8 255,273.3 256,273.3 257,274 258,274.8 259,275.3 260,275.2 261,274.5 262,273.8 263,273.5 264,273.9 265,274.7 266,275.4 267,275.6 268,275.2 269,274.4 270,273.8 271,273.9 272,274.5 273,275.4 274,275.9 275,275.8 276,275.1 277,274.4 278,274.1 279,274.4 280,275.2 281,276 282,276.2 283,275.8 284,275 285,274.4 286,274.5 287,275.1 288,275.9 289,276.5 290,276.3 291,275.7 292,274.9 293,274.6 294,275 295,275.8 296,276.6 297,276.8 298,276.3 299,275.5 300,275 301,275 302,275.7 303,276.5 304,277 305,276.9 306,276.2 307,275.5 308,275.2 309,275.6 310,276.4 311,277.1 312,277.3 313,276.9 314,276.1 315,275.5 316,275.6 317,276.2 318,277.1 319,277.6 320,277.5 321,276.8 322,276.1 323,275.8 324,276.1 325,276.9 326,277.7 327,277.9 328,277.5 329,276.7 330,276.1 331,276.2 332,276.8 333,277.6 334,278.2 335,278 336,277.4 337,276.6 338,276.3 339,276.7 340,277.5 341,278.3 342,278.5 343,278 344,277.3 345,276.7 346,276.7 347,277.3 348,278.2 349,278.7 350,278.5 351,277.9 352,277.1 353,276.8 354,277.2 355,278 356,278.7 357,278.9 358,278.4 359,277.6 360,277.1 361,277.1 362,277.7 363,278.6 364,279.1 365,278.9 366,278.2 367,277.5 368,277.2 369,277.5 370,278.3 371,279.1 372,279.3 373,278.8 374,278 375,277.4 376,277.5 377,278.1 378,278.9 379,279.4 380,279.3 381,278.6 382,277.9 383,277.6 384,277.9 385,278.7 386,279.4 387,279.6 388,279.2 389,278.4 390,277.8 391,277.9 392,278.5 393,279.3 394,279.8 395,279.7 396,279 397,278.3 398,277.9 399,278.3 400,279.1 401,279.8 402,280 403,279.6 404,278.8 405,278.2 406,278.2 407,278.9 408,279.7 409,280.2 410,280.1 411,279.4 412,278.6 413,278.3 414,278.7 415,279.5 416,280.2 417,280.4 418,279.9 419,279.1 420,278.5 421,278.5 422,279.2 423,280 424,280.5 425,280.3 426,279.7 427,278.9 428,278.6 429,278.9 430,279.7 431,280.4 432,280.6 433,280.2 434,279.4 435,278.8 436,278.8 437,279.4 438,280.3 439,280.8 440,280.6 441,279.9 442,279.2 443,278.8 444,279.2 445,280 446,280.7 447,280.9 448,280.4 449,279.6 450,279.1 451,279.1 452,279.7 453,280.5 454,281 455,280.9 456,280.2 457,279.4 458,279.1 459,279.5 460,280.3 461,281 462,281.2 463,280.7 464,279.9 465,279.3 466,279.3 467,280 468,280.8 469,281.3 470,281.1 471,280.4 472,279.7 473,279.4 474,279.7 475,280.5 476,281.2 477,281.4 478,281 479,280.2 480,279.6 481,279.6 482,280.2 483,281 484,281.5 485,281.4 486,280.7 487,279.9 488,279.6 489,279.9 490,280.7 491,281.4 492,281.6 493,281.1 494,280.3 495,279.7 496,279.7 497,280.3 498,281.1 499,281.6 500,281.5 501,280.8 502,280 503,279.7 504,280 505,280.8 506,281.5 507,281.7 508,281.2 509,280.4 510,279.8 511,279.8 512,280.5 513,281.3 514,281.8 515,281.6 516,280.9 517,280.1 518,279.8 519,280.2 520,280.9 521,281.7 522,281.8 523,281.4 524,280.6 525,280 526,280 527,280.6 528,281.4 529,281.9 530,281.7 531,281 532,280.3 533,279.9 534,280.3 535,281.1 536,281.8 537,282 538,281.5 539,280.7 540,280.1 541,280.1 542,280.7 543,281.5 544,282 545,281.9 546,281.2 547,280.4 548,280.1 549,280.5 550,281.2 551,282 552,282.1 553,281.7 554,280.9 555,280.3 556,280.3 557,280.9 558,281.7 559,282.2 560,282.1 561,281.4 562,280.6 563,280.3 564,280.7 565,281.4 566,282.2 567,282.3 568,281.9 569,281.1 570,280.5 571,280.5 572,281.1 573,281.9 574,282.4 575,282.3 576,281.6 577,280.8 578,280.5 579,280.9 580,281.6 581,282.4 582,282.5 583,282.1 584,281.3 585,280.7 586,280.7 587,281.3 588,282.1 589,282.6 590,282.5 591,281.8 592,281 593,280.7 594,281.1 595,281.8 596,282.6 597,282.7 598,282.3 599,281.5 600,280.9 601,280.9 602,281.5 603,282.3 604,282.8 605,282.7 606,282 607,281.2 608,280.9 609,281.3 610,282 611,282.8 612,282.9 613,282.5 614,281.7 615,281.1 616,281.1 617,281.7 618,282.5 619,283 620,282.9 621,282.2 622,281.4 623,281.1 624,281.4 625,282.2 626,282.9 627,283.1 628,282.6 629,281.8 630,281.2 631,281.2 632,281.9 633,282.7 634,283.2 635,283 636,282.3 637,281.5 638,281.2 639,281.6 640,282.3 641,283.1 642,283.2 643,282.8 644,282 645,281.4 646,281.4 647,282 648,282.8 649,283.3 650,283.1 651,282.5 652,281.7 653,281.4 654,281.7 655,282.5 656,283.2 657,283.4 658,282.9 659,282.1 660,281.5 661,281.5 662,282.1 663,283 664,283.4 665,283.3 666,282.6 666.5,282.2 666.5,293.2 666,293.6 665,294.3 664,294.4 663,294 662,293.1 661,292.5 660,292.5 659,293.1 658,293.9 657,294.4 656,294.2 655,293.5 654,292.7 653,292.4 652,292.7 651,293.5 650,294.1 649,294.3 648,293.8 647,293 646,292.4 645,292.4 644,293 643,293.8 642,294.2 641,294.1 640,293.3 639,292.6 638,292.2 637,292.5 636,293.3 635,294 634,294.2 633,293.7 632,292.9 631,292.2 630,292.2 629,292.8 628,293.6 627,294.1 626,293.9 625,293.2 624,292.4 623,292.1 622,292.4 621,293.2 620,293.9 619,294 618,293.5 617,292.7 616,292.1 615,292.1 614,292.7 613,293.5 612,293.9 611,293.8 610,293 609,292.3 608,291.9 607,292.2 606,293 605,293.7 604,293.8 603,293.3 602,292.5 601,291.9 600,291.9 599,292.5 598,293.3 597,293.8 596,293.6 595,292.9 594,292.1 593,291.7 592,292 591,292.8 590,293.5 589,293.7 588,293.2 587,292.3 586,291.7 585,291.7 584,292.3 583,293.1 582,293.6 581,293.4 580,292.7 579,291.9 578,291.5 577,291.9 576,292.6 575,293.3 574,293.5 573,293 572,292.1 571,291.5 570,291.5 569,292.1 568,292.9 567,293.4 566,293.2 565,292.5 564,291.7 563,291.3 562,291.7 561,292.4 560,293.1 559,293.3 558,292.8 557,292 556,291.3 555,291.3 554,291.9 553,292.7 552,293.2 551,293 550,292.3 549,291.5 548,291.2 547,291.5 546,292.2 545,292.9 544,293.1 543,292.6 542,291.8 541,291.2 540,291.1 539,291.7 538,292.5 537,293 536,292.8 535,292.1 534,291.3 533,291 532,291.3 531,292 530,292.7 529,292.9 528,292.4 527,291.6 526,291 525,291 524,291.5 523,292.3 522,292.8 521,292.6 520,291.9 519,291.1 518,290.8 517,291.1 516,291.9 515,292.5 514,292.7 513,292.2 512,291.4 511,290.8 510,290.8 509,291.4 508,292.2 507,292.6 506,292.4 505,291.7 504,290.9 503,290.6 502,290.9 501,291.7 500,292.4 499,292.5 498,292 497,291.2 496,290.6 495,290.6 494,291.2 493,292 492,292.4 491,292.2 490,291.5 489,290.7 488,290.4 487,290.7 486,291.5 485,292.2 484,292.3 483,291.8 482,291 481,290.4 480,290.4 479,291 478,291.8 477,292.2 476,292 475,291.3 474,290.5 473,290.2 472,290.5 471,291.2 470,291.9 469,292.1 468,291.6 467,290.8 466,290.1 465,290.1 464,290.7 463,291.5 462,292 461,291.8 460,291.1 459,290.3 458,289.9 457,290.2 456,291 455,291.7 454,291.8 453,291.3 452,290.5 451,289.9 450,289.9 449,290.4 448,291.2 447,291.7 446,291.5 445,290.8 444,290 443,289.6 442,290 441,290.7 440,291.4 439,291.6 438,291.1 437,290.2 436,289.6 435,289.6 434,290.2 433,291 432,291.4 431,291.2 430,290.5 429,289.7 428,289.4 427,289.7 426,290.5 425,291.1 424,291.3 423,290.8 422,290 421,289.3 420,289.3 419,289.9 418,290.7 417,291.2 416,291 415,290.3 414,289.5 413,289.1 412,289.4 411,290.2 410,290.8 409,291 408,290.5 407,289.6 406,289 405,288.9 404,289.5 403,290.3 402,290.7 401,290.5 400,289.8 399,289 398,288.6 397,288.9 396,289.7 395,290.3 394,290.5 393,289.9 392,289.1 391,288.5 390,288.4 389,289 388,289.8 387,290.2 386,290 385,289.3 384,288.5 383,288.1 382,288.4 381,289.1 380,289.8 379,289.9 378,289.4 377,288.6 376,288 375,287.9 374,288.5 373,289.3 372,289.7 371,289.5 370,288.8 369,288 368,287.6 367,287.9 366,288.6 365,289.3 364,289.4 363,288.9 362,288.1 361,287.4 360,287.4 359,288 358,288.7 357,289.2 356,289 355,288.2 354,287.4 353,287.1 352,287.4 351,288.1 350,288.8 349,288.9 348,288.4 347,287.6 346,286.9 345,286.9 344,287.5 343,288.2 342,288.7 341,288.5 340,287.8 339,287 338,286.6 337,286.9 336,287.6 335,288.3 334,288.5 333,288 332,287.1 331,286.5 330,286.5 329,287 328,287.8 327,288.3 326,288.1 325,287.3 324,286.5 323,286.2 322,286.5 321,287.2 320,287.9 319,288 318,287.5 317,286.7 316,286 315,286 314,286.6 313,287.4 312,287.8 311,287.6 310,286.9 309,286.1 308,285.7 307,286 306,286.8 305,287.5 304,287.6 303,287.1 302,286.2 301,285.6 300,285.6 299,286.1 298,286.9 297,287.4 296,287.1 295,286.4 294,285.6 293,285.2 292,285.5 291,286.2 290,286.9 289,287 288,286.5 287,285.6 286,285 285,285 284,285.5 283,286.3 282,286.7 281,286.5 280,285.8 279,284.9 278,284.6 277,284.9 276,285.6 275,286.3 274,286.4 273,285.9 272,285 271,284.4 270,284.3 269,284.9 268,285.7 267,286.1 266,285.9 265,285.1 264,284.3 263,283.9 262,284.2 261,285 260,285.6 259,285.8 258,285.2 257,284.4 256,283.7 255,283.7 254,284.3 253,285 252,285.5 251,285.3 250,284.5 249,283.7 248,283.2 247,283.5 246,284.2 245,284.8 244,284.9 243,284.4 242,283.5 241,282.8 240,282.7 239,283.2 238,284 237,284.4 236,284.1 235,283.3 234,282.5 233,282.1 232,282.3 231,283 230,283.7 229,283.8 228,283.2 227,282.3 226,281.6 225,281.5 224,282.1 223,282.8 222,283.2 221,283 220,282.2 219,281.3 218,280.9 217,281.2 216,281.9 215,282.5 214,282.6 213,282 212,281.1 211,280.5 210,280.4 209,280.9 208,281.6 207,282 206,281.8 205,281 204,280.1 203,279.7 202,279.9 201,280.6 200,281.2 199,281.3 198,280.7 197,279.8 196,279.1 195,279.1 194,279.6 193,280.3 192,280.7 191,280.4 190,279.6 189,278.8 188,278.4 187,278.6 186,279.3 185,279.9 184,280 183,279.4 182,278.5 181,277.8 180,277.7 179,278.3 178,279 177,279.4 176,279.1 175,278.3 174,277.5 173,277 172,277.3 171,278 170,278.6 169,278.7 168,278.1 167,277.2 166,276.5 165,276.4 164,276.9 163,277.6 162,278 161,277.8 160,277 159,276.1 158,275.7 157,275.9 156,276.6 155,277.3 154,277.3 153,276.8 152,275.9 151,275.2 150,275.1 149,275.7 148,276.5 147,276.9 146,276.7 145,276 144,275.2 143,274.9 142,275.2 141,275.9 140,276.6 139,276.8 138,276.3 137,275.4 136,274.8 135,274.8 134,275.4 133,276.2 132,276.6 131,276.4 130,275.7 129,274.9 128,274.6 127,274.9 126,275.6 125,276.3 124,276.5 123,276 122,275.1 121,274.5 120,274.5 119,275.1 118,275.9 117,276.3 116,276.1 115,275.4 114,274.6 113,274.3 112,274.6 111,275.3 110,276 109,276.2 108,275.7 107,274.8 106,274.2 105,274.2 104,274.8 103,275.6 102,276 101,275.8 100,275.1 99,274.3 98,274 97,274.3 96,275.1 95,275.8 94,276 93,275.5 92,274.7 91,274.1 90,274.1 89,274.7Z" fill="#00f8f8"/>
<path d="M775.5,198.2 776.5,193 777.5,188.1 778.5,186.4 779.5,185.7 780.5,183.9 781.5,180.9 782.5,177.9 783.5,177.3 784.5,177.2 785.5,176.4 786.5,174 787.5,171.6 788.5,170.9 789.5,170.8 790.5,170.7 791.5,168.9 792.5,167.1 793.5,166.4 794.5,166.9 795.5,167.4 796.5,165.8 797.5,163.9 798.5,162.8 799.5,163.4 800.5,163.9 801.5,162.9 802.5,161.1 803.5,159.6 804.5,160.2 805.5,160.8 806.5,160.2 807.5,158.4 808.5,156.7 809.5,157.1 810.5,157.8 811.5,157.8 812.5,156.2 813.5,154.7 814.5,154.7 815.5,155.4 816.5,155.9 817.5,154.3 818.5,152.7 819.5,152.3 820.5,153.1 821.5,154 822.5,152.8 823.5,151.3 824.5,150.6 825.5,151.4 826.5,152.3 827.5,151.5 828.5,150.1 829.5,148.8 830.5,149.7 831.5,150.5 832.5,150.2 833.5,148.7 834.5,147.2 835.5,147.8 836.5,148.6 837.5,146.7 838.5,143 839.5,140.2 840.5,139.9 841.5,140.4 842.5,140.6 843.5,138.7 844.5,137.5 845.5,137.5 846.5,138.6 847.5,139.7 848.5,138.7 849.5,137.5 850.5,137 851.5,138.1 852.5,139.2 853.5,138.7 854.5,137 855.5,135.2 856.5,135.5 857.5,135.8 858.5,134.9 859.5,132.8 860.5,130.8 861.5,131.3 862.5,132.4 863.5,132.7 864.5,131.4 865.5,130.1 866.5,130.4 867.5,131.5 868.5,130.8 869.5,127.7 870.5,124.6 871.5,122.6 872.5,122.9 873.5,124.3 874.5,123.6 875.5,122.6 876.5,122.4 877.5,123.8 878.5,125.1 879.5,124.9 880.5,124 881.5,123.3 882.5,124.7 883.5,126.1 884.5,126.3 885.5,125.4 886.5,124.5 887.5,125.2 888.5,125.6 889.5,125.4 890.5,123.5 891.5,121.6 892.5,121.4 893.5,122.3 894.5,123.5 895.5,122.7 896.5,121.8 897.5,122.1 898.5,123.5 899.5,125 900.5,124.3 901.5,123.5 902.5,122.3 903.5,121.7 904.5,121 905.5,118.8 906.5,115.9 907.5,113.2 908.5,113.1 909.5,113.5 910.5,112.8 911.5,110.9 912.5,109 913.5,109.2 914.5,109.6 915.5,109.6 916.5,108.4 917.5,107.2 918.5,107.6 919.5,108.7 920.5,109.5 921.5,108.3 922.5,107.1 923.5,107 924.5,108.1 925.5,109.2 926.5,108.2 927.5,107 928.5,106.4 929.5,107.5 930.5,108.6 931.5,108 932.5,106.7 933.5,105.6 934.5,106.7 935.5,107.7 936.5,107.6 937.5,106.3 938.5,105 939.5,105.8 940.5,106.8 941.5,107.1 942.5,105.8 943.5,104.5 944.5,104.9 945.5,105.9 946.5,106.7 947.5,105.4 948.5,104.1 949.5,103.9 950.5,104.9 951.5,105.9 952.5,104.8 953.5,103.5 954.5,102.9 955.5,102.3 956.5,100.2 957.5,96.4 958.5,93.4 959.5,92.2 960.5,93.1 961.5,93.9 962.5,93.6 963.5,92.2 964.5,90.8 965.5,91.6 966.5,93 967.5,93.6 968.5,92.6 969.5,91.6 970.5,92.3 971.5,93.6 972.5,94.7 973.5,93.7 974.5,92.7 975.5,92.9 976.5,94.2 977.5,95.6 978.5,94.8 979.5,93.8 980.5,93.6 981.5,94.9 982.5,96.2 983.5,95.9 984.5,95 985.5,94 986.5,94.9 987.5,95.8 988.5,95.5 989.5,94.1 990.5,92.7 991.5,93.4 992.5,94.3 993.5,94.5 994.5,93.1 995.5,91.8 996.5,92.3 997.5,93.5 998.5,94.4 999.5,93.2 1000.5,92.1 1001.5,92.1 1002.5,93.2 1003.5,94.4 1004.5,93.5 1005.5,92.3 1006.5,91.8 1007.5,93 1008.5,94.2 1009.5,93.7 1010.5,92.9 1011.5,92.6 1012.5,94.4 1013.5,96.2 1014.5,96.8 1015.5,96.3 1016.5,95.8 1017.5,96.6 1018.5,97 1019.5,96.7 1020.5,94.7 1021.5,92.8 1022.5,92.5 1023.5,92.8 1024.5,93 1025.5,91.4 1026.5,90.1 1027.5,89.9 1028.5,91 1029.5,92 1030.5,90.9 1031.5,89.6 1032.5,89 1033.5,90.1 1034.5,91.1 1035.5,90.5 1036.5,89.2 1037.5,88.1 1038.5,89.1 1039.5,90.2 1040.5,90 1041.5,88.7 1042.5,87.5 1043.5,88.2 1044.5,89.3 1045.5,89.6 1046.5,88.5 1047.5,87.3 1048.5,87.7 1049.5,88.9 1050.5,89.8 1051.5,88.6 1052.5,87.4 1053.5,87.4 1054.5,88.5 1055.5,89.7 1056.5,88.7 1057.5,87.6 1058.5,87.1 1059.5,88.2 1060.5,89.3 1061.5,88.9 1062.5,87.7 1063.5,86.7 1064.5,87.9 1065.5,89 1066.5,89 1067.5,87.8 1068.5,86.6 1069.5,87.5 1070.5,88.6 1071.5,88.8 1072.5,87.5 1073.5,86.1 1074.5,86.3 1075.5,87.3 1076.5,88 1077.5,86.6 1078.5,85.2 1079.5,85 1080.5,86.1 1081.5,87.3 1082.5,86.4 1083.5,85.3 1084.5,84.9 1085.5,86.1 1086.5,87.3 1087.5,86.8 1088.5,85.7 1089.5,84.9 1090.5,86.1 1091.5,87.3 1092.5,87.3 1093.5,86.2 1094.5,85.1 1095.5,86.1 1096.5,87.3 1097.5,87.8 1098.5,86.7 1099.5,85.6 1100.5,85.9 1101.5,86.8 1102.5,87.4 1103.5,86 1104.5,84.6 1105.5,84.3 1106.5,85.1 1107.5,86 1108.5,84.8 1109.5,83.4 1110.5,82.8 1111.5,84 1112.5,85.2 1113.5,84.8 1114.5,83.6 1115.5,82.8 1116.5,83.9 1117.5,85.1 1118.5,85.2 1119.5,84.1 1120.5,83 1121.5,83.9 1122.5,85.1 1123.5,85.6 1124.5,84.5 1125.5,83.4 1126.5,83.9 1127.5,85.1 1128.5,86.1 1129.5,84.9 1130.5,83.8 1131.5,83.9 1132.5,85.1 1133.5,86.3 1134.5,85.4 1135.5,84.3 1136.5,84.1 1137.5,85.4 1138.5,86.7 1139.5,86.4 1140.5,85.5 1141.5,84.7 1142.5,86.1 1143.5,87.4 1144.5,87.6 1145.5,86.6 1146.5,85.7 1147.5,86.8 1148.5,88.1 1149.5,88.7 1150.5,87.7 1151.5,86.6 1152.5,87.1 1153.5,88.3 1154.5,89.3 1155.5,88.2 1156.5,87.1 1157.5,87.2 1158.5,88.4 1159.5,89.6 1160.5,88.7 1161.5,87.6 1162.5,87.2 1163.5,88.4 1164.5,89.6 1165.5,89.2 1166.5,88.1 1167.5,87.2 1168.5,88.4 1169.5,89.6 1170.5,89.7 1171.5,88.6 1172.5,87.5 1173.5,88.5 1174.5,89.7 1175.5,90.2 1176.5,89.1 1177.5,88 1178.5,88.5 1179.5,89.7 1180.5,90.7 1181.5,89.6 1182.5,88.5 1183.5,88.5 1184.5,89.7 1185.5,90.9 1186.5,90.1 1187.5,89 1188.5,88.6 1189.5,89.8 1190.5,91 1191.5,90.6 1192.5,89.5 1193.5,88.6 1194.5,89.8 1195.5,91 1196.5,91.1 1197.5,89.9 1198.5,88.8 1199.5,89.8 1200.5,91 1201.5,91.5 1202.5,90.4 1203.5,89.3 1204.5,89.8 1205.5,91.1 1206.5,92 1207.5,90.9 1208.5,89.8 1209.5,89.9 1210.5,91.1 1211.5,92.3 1212.5,91.4 1213.5,90.3 1214.5,89.9 1215.5,91.1 1216.5,92.3 1217.5,91.9 1218.5,90.8 1219.5,89.9 1220.5,91.1 1221.5,92.3 1222.5,92.4 1223.5,91.3 1224.5,90.2 1225.5,91.1 1226.5,92.3 1227.5,92.9 1228.5,91.8 1229.5,90.7 1230.5,91.2 1231.5,92.4 1232.5,93.3 1233.5,92.2 1234.5,91.1 1235.5,91.2 1236.5,92.4 1237.5,93.6 1238.5,92.7 1239.5,91.6 1240.5,91.2 1241.5,92.4 1242.5,93.6 1243.5,93.2 1244.5,92.1 1245.5,91.2 1246.5,92.4 1247.5,93.6 1248.5,93.7 1249.5,92.6 1250.5,91.5 1251.5,92.5 1252.5,93.7 1253.5,94.3 1254.5,93.2 1255.5,92.2 1256.5,92.7 1257.5,93.9 1258.5,94.9 1259.5,93.9 1260.5,92.8 1261.5,92.9 1262.5,94.1 1263.5,95.4 1264.5,94.5 1265.5,93.5 1266.5,93.1 1267.5,94.3 1268.5,95.6 1269.5,95.2 1270.5,94.1 1271.5,93.3 1272.5,94.5 1273.5,95.8 1274.5,95.8 1275.5,94.8 1276.5,93.7 1277.5,94.7 1278.5,95.9 1279.5,96.5 1280.5,95.4 1281.5,94.4 1282.5,94.9 1283.5,96.1 1284.5,97.1 1285.5,96.1 1286.5,95 1287.5,95.1 1288.5,96.3 1289.5,97.6 1290.5,96.7 1291.5,95.7 1292.5,95.3 1293.5,96.5 1294.5,97.8 1295.5,97.4 1296.5,96.3 1297.5,95.5 1298.5,96.7 1299.5,98 1300.5,98 1301.5,97 1302.5,95.9 1303.5,97 1304.5,98.2 1305.5,98.8 1306.5,97.7 1307.5,96.6 1308.5,97.2 1309.5,98.5 1310.5,99.5 1311.5,98.4 1312.5,97.4 1313.5,97.5 1314.5,98.7 1315.5,100 1316.5,99.1 1317.5,98.1 1318.5,97.7 1319.5,99 1320.5,100.2 1321.5,99.8 1322,99.3 1322,113.3 1321.5,113.8 1320.5,114.2 1319.5,112.9 1318.5,111.7 1317.5,112 1316.5,113.1 1315.5,113.9 1314.5,112.7 1313.5,111.4 1312.5,111.3 1311.5,112.3 1310.5,113.4 1309.5,112.4 1308.5,111.1 1307.5,110.5 1306.5,111.6 1305.5,112.6 1304.5,112.1 1303.5,110.8 1302.5,109.8 1301.5,110.8 1300.5,111.9 1299.5,111.8 1298.5,110.6 1297.5,109.3 1296.5,110.1 1295.5,111.2 1294.5,111.6 1293.5,110.3 1292.5,109.1 1291.5,109.5 1290.5,110.5 1289.5,111.4 1288.5,110.1 1287.5,108.9 1286.5,108.8 1285.5,109.8 1284.5,110.9 1283.5,109.9 1282.5,108.6 1281.5,108.1 1280.5,109.1 1279.5,110.2 1278.5,109.7 1277.5,108.4 1276.5,107.4 1275.5,108.5 1274.5,109.5 1273.5,109.4 1272.5,108.2 1271.5,106.9 1270.5,107.8 1269.5,108.8 1268.5,109.2 1267.5,108 1266.5,106.7 1265.5,107.1 1264.5,108.1 1263.5,109 1262.5,107.7 1261.5,106.5 1260.5,106.4 1259.5,107.5 1258.5,108.5 1257.5,107.5 1256.5,106.3 1255.5,105.7 1254.5,106.8 1253.5,107.8 1252.5,107.3 1251.5,106 1250.5,105 1249.5,106.1 1248.5,107.2 1247.5,107.1 1246.5,105.9 1245.5,104.7 1244.5,105.6 1243.5,106.7 1242.5,107.1 1241.5,105.9 1240.5,104.7 1239.5,105.1 1238.5,106.2 1237.5,107 1236.5,105.8 1235.5,104.6 1234.5,104.5 1233.5,105.6 1232.5,106.7 1231.5,105.8 1230.5,104.5 1229.5,104 1228.5,105.1 1227.5,106.2 1226.5,105.7 1225.5,104.5 1224.5,103.5 1223.5,104.6 1222.5,105.7 1221.5,105.6 1220.5,104.4 1219.5,103.2 1218.5,104.1 1217.5,105.2 1216.5,105.6 1215.5,104.4 1214.5,103.2 1213.5,103.6 1212.5,104.7 1211.5,105.5 1210.5,104.3 1209.5,103.1 1208.5,103.1 1207.5,104.1 1206.5,105.2 1205.5,104.3 1204.5,103.1 1203.5,102.5 1202.5,103.6 1201.5,104.7 1200.5,104.2 1199.5,103 1198.5,102 1197.5,103.1 1196.5,104.2 1195.5,104.1 1194.5,102.9 1193.5,101.7 1192.5,102.6 1191.5,103.7 1190.5,104.1 1189.5,102.9 1188.5,101.7 1187.5,102.1 1186.5,103.1 1185.5,104 1184.5,102.8 1183.5,101.6 1182.5,101.5 1181.5,102.6 1180.5,103.7 1179.5,102.7 1178.5,101.5 1177.5,101 1176.5,102.1 1175.5,103.2 1174.5,102.7 1173.5,101.5 1172.5,100.5 1171.5,101.6 1170.5,102.7 1169.5,102.6 1168.5,101.4 1167.5,100.2 1166.5,101 1165.5,102.1 1164.5,102.5 1163.5,101.3 1162.5,100.1 1161.5,100.5 1160.5,101.6 1159.5,102.5 1158.5,101.3 1157.5,100 1156.5,100 1155.5,101.1 1154.5,102.2 1153.5,101.2 1152.5,100 1151.5,99.5 1150.5,100.5 1149.5,101.6 1148.5,100.9 1147.5,99.6 1146.5,98.5 1145.5,99.4 1144.5,100.4 1143.5,100.2 1142.5,98.9 1141.5,97.5 1140.5,98.3 1139.5,99.2 1138.5,99.5 1137.5,98.1 1136.5,96.8 1135.5,97.1 1134.5,98.1 1133.5,99 1132.5,97.8 1131.5,96.6 1130.5,96.5 1129.5,97.6 1128.5,98.7 1127.5,97.8 1126.5,96.6 1125.5,96.1 1124.5,97.2 1123.5,98.3 1122.5,97.8 1121.5,96.6 1120.5,95.6 1119.5,96.7 1118.5,97.8 1117.5,97.8 1116.5,96.6 1115.5,95.4 1114.5,96.2 1113.5,97.3 1112.5,97.8 1111.5,96.6 1110.5,95.4 1109.5,95.9 1108.5,97.4 1107.5,98.6 1106.5,97.7 1105.5,96.8 1104.5,97.1 1103.5,98.5 1102.5,99.9 1101.5,99.3 1100.5,98.4 1099.5,98 1098.5,99.1 1097.5,100.1 1096.5,99.5 1095.5,98.2 1094.5,97.2 1093.5,98.2 1092.5,99.3 1091.5,99.1 1090.5,97.9 1089.5,96.6 1088.5,97.4 1087.5,98.4 1086.5,98.8 1085.5,97.5 1084.5,96.2 1083.5,96.5 1082.5,97.6 1081.5,98.4 1080.5,97.1 1079.5,96 1078.5,96.2 1077.5,97.6 1076.5,99 1075.5,98.3 1074.5,97.3 1073.5,97.1 1072.5,98.5 1071.5,99.8 1070.5,99.6 1069.5,98.5 1068.5,97.6 1067.5,98.8 1066.5,100 1065.5,100 1064.5,98.9 1063.5,97.7 1062.5,98.7 1061.5,99.9 1060.5,100.3 1059.5,99.2 1058.5,98.1 1057.5,98.6 1056.5,99.7 1055.5,100.7 1054.5,99.5 1053.5,98.4 1052.5,98.4 1051.5,99.6 1050.5,100.8 1049.5,99.9 1048.5,98.7 1047.5,98.3 1046.5,99.5 1045.5,100.6 1044.5,100.3 1043.5,99.2 1042.5,98.5 1041.5,99.7 1040.5,101 1039.5,101.2 1038.5,100.1 1037.5,99.1 1036.5,100.2 1035.5,101.5 1034.5,102.1 1033.5,101.1 1032.5,100 1031.5,100.6 1030.5,101.9 1029.5,103 1028.5,102 1027.5,100.9 1026.5,101.1 1025.5,102.4 1024.5,104 1023.5,103.8 1022.5,103.5 1021.5,103.8 1020.5,105.7 1019.5,107.7 1018.5,108 1017.5,107.6 1016.5,106.8 1015.5,107.3 1014.5,107.8 1013.5,107.2 1012.5,105.4 1011.5,103.6 1010.5,103.9 1009.5,104.7 1008.5,105.2 1007.5,104 1006.5,102.8 1005.5,103.3 1004.5,104.5 1003.5,105.4 1002.5,104.2 1001.5,103.1 1000.5,103.1 999.5,104.2 998.5,105.4 997.5,104.5 996.5,103.3 995.5,102.8 994.5,104.1 993.5,105.5 992.5,105.3 991.5,104.4 990.5,103.7 989.5,105.1 988.5,106.5 987.5,106.8 986.5,105.9 985.5,105 984.5,106 983.5,106.9 982.5,107.2 981.5,105.9 980.5,104.6 979.5,104.8 978.5,105.8 977.5,106.6 976.5,105.2 975.5,103.9 974.5,103.7 973.5,104.7 972.5,105.7 971.5,104.6 970.5,103.3 969.5,102.6 968.5,103.6 967.5,104.6 966.5,104 965.5,102.6 964.5,101.8 963.5,103.2 962.5,104.6 961.5,104.9 960.5,104.1 959.5,103.2 958.5,104.4 957.5,107.4 956.5,111.2 955.5,113.3 954.5,113.9 953.5,114.5 952.5,115.8 951.5,116.9 950.5,115.9 949.5,114.9 948.5,115.1 947.5,116.4 946.5,117.7 945.5,116.9 944.5,115.9 943.5,115.5 942.5,116.8 941.5,118.1 940.5,117.8 939.5,116.8 938.5,116 937.5,117.3 936.5,118.6 935.5,118.7 934.5,117.7 933.5,116.6 932.5,117.7 931.5,119 930.5,119.6 929.5,118.5 928.5,117.4 927.5,118 926.5,119.2 925.5,120.2 924.5,119.1 923.5,118 922.5,118.1 921.5,119.3 920.5,120.5 919.5,119.7 918.5,118.6 917.5,118.2 916.5,119.4 915.5,120.6 914.5,120.6 913.5,120.2 912.5,120 911.5,121.9 910.5,123.8 909.5,124.5 908.5,124.1 907.5,124.2 906.5,126.9 905.5,129.8 904.5,132 903.5,132.7 902.5,133.3 901.5,134.5 900.5,135.3 899.5,136 898.5,134.5 897.5,133.1 896.5,132.8 895.5,133.7 894.5,134.5 893.5,133.3 892.5,132.4 891.5,132.6 890.5,134.5 889.5,136.4 888.5,136.6 887.5,136.2 886.5,135.5 885.5,136.4 884.5,137.3 883.5,137.1 882.5,135.7 881.5,134.3 880.5,135 879.5,135.9 878.5,136.1 877.5,134.7 876.5,133.3 875.5,133.6 874.5,134.5 873.5,135.2 872.5,133.8 871.5,133.5 870.5,135.5 869.5,138.6 868.5,141.7 867.5,142.3 866.5,141.3 865.5,141 864.5,142.2 863.5,143.5 862.5,143.2 861.5,142.2 860.5,141.6 859.5,143.6 858.5,145.6 857.5,146.5 856.5,146.3 855.5,146 854.5,147.8 853.5,149.5 852.5,150 851.5,148.8 850.5,147.7 849.5,148.2 848.5,149.4 847.5,150.4 846.5,149.2 845.5,148.1 844.5,148.2 843.5,149.3 842.5,151.2 841.5,151 840.5,150.5 839.5,150.8 838.5,153.6 837.5,157.3 836.5,159.2 835.5,158.4 834.5,157.8 833.5,159.2 832.5,160.7 831.5,161 830.5,160.2 829.5,159.3 828.5,160.5 827.5,161.9 826.5,162.7 825.5,161.8 824.5,160.9 823.5,161.7 822.5,163.1 821.5,164.3 820.5,163.4 819.5,162.6 818.5,162.9 817.5,164.5 816.5,166.1 815.5,165.6 814.5,164.8 813.5,164.8 812.5,166.4 811.5,167.9 810.5,167.9 809.5,167.1 808.5,166.7 807.5,168.4 806.5,170.2 805.5,170.7 804.5,170.1 803.5,169.5 802.5,171 801.5,172.8 800.5,173.8 799.5,173.2 798.5,172.6 797.5,173.7 796.5,175.5 795.5,177.1 794.5,176.6 793.5,176.1 792.5,176.8 791.5,178.6 790.5,180.4 789.5,180.3 788.5,180.2 787.5,180.8 786.5,183 785.5,185.2 784.5,185.7 783.5,185.6 782.5,185.8 781.5,188.1 780.5,190.5 779.5,191.7 778.5,191.7 777.5,192.3 776.5,195.6 775.5,199.2Z" fill="#000"/>
<path d="M766.3,292 768.3,277 770.6,261 772.7,231 774.5,208 776,197 778,190 781,185" fill="none" stroke="#000" stroke-width="2.6" stroke-linejoin="round"/>
<path d="M1319,101 L1323,100 L1327.4,119.5" fill="none" stroke="#000" stroke-width="2.6" stroke-linejoin="round"/>
<rect x="763.5" y="327" width="7.5" height="30" fill="#9e0000"/>
<path d="M767,300 768,300.3 769,295.4 770,290.2 771,284.4 772,282.6 773,280.8 774,279.7 775,279.2 776,279.8 777,280 778,279.4 779,278.6 780,278.2 781,278.5 782,279.2 783,279.6 784,279.4 785,278.6 786,278.1 787,278.1 788,278.8 789,279.6 790,279.8 791,279.4 792,278.7 793,278.4 794,278.8 795,279.7 796,280.2 797,280.1 798,279.5 799,278.9 800,279 801,279.7 802,280.4 803,280.7 804,280.3 805,279.6 806,279.3 807,279.7 808,280.5 809,281.1 810,281 811,280.3 812,279.8 813,279.9 814,280.5 815,281.3 816,281.5 817,281.1 818,280.4 819,280.2 820,280.6 821,281.4 822,281.9 823,281.8 824,281.2 825,280.7 826,280.7 827,281.4 828,282.2 829,282.4 830,282 831,281.3 832,281 833,281.5 834,282.3 835,282.8 836,282.7 837,282.1 838,281.6 839,281.6 840,282.3 841,283.1 842,283.4 843,282.9 844,282.3 845,282 846,282.4 847,283.2 848,283.8 849,283.7 850,283.1 851,282.5 852,282.6 853,283.3 854,284 855,284.3 856,283.9 857,283.2 858,282.9 859,283.4 860,284.2 861,284.7 862,284.6 863,284 864,283.5 865,283.5 866,284.2 867,285 868,285.2 869,284.8 870,284.2 871,283.9 872,284.3 873,285.1 874,285.7 875,285.6 876,285 877,284.4 878,284.5 879,285.2 880,285.9 881,286.2 882,285.8 883,285.1 884,284.8 885,285.3 886,286.1 887,286.6 888,286.5 889,285.9 890,285.4 891,285.4 892,286.1 893,286.9 894,287.1 895,286.7 896,286.1 897,285.8 898,286.2 899,287 900,287.6 901,287.4 902,286.8 903,286.2 904,286.3 905,286.9 906,287.6 907,287.9 908,287.4 909,286.7 910,286.4 911,286.8 912,287.6 913,288.1 914,288 915,287.3 916,286.7 917,286.8 918,287.4 919,288.2 920,288.4 921,287.9 922,287.2 923,286.9 924,287.3 925,288.1 926,288.6 927,288.5 928,287.8 929,287.3 930,287.3 931,287.9 932,288.7 933,288.9 934,288.4 935,287.7 936,287.4 937,287.8 938,288.6 939,289.1 940,289 941,288.3 942,287.8 943,287.8 944,288.5 945,289.2 946,289.4 947,289 948,288.3 949,288 950,288.3 951,289.1 952,289.7 953,289.5 954,288.9 955,288.3 956,288.3 957,289 958,289.7 959,289.9 960,289.5 961,288.8 962,288.5 963,288.9 964,289.6 965,290.2 966,290 967,289.4 968,288.8 969,288.9 970,289.5 971,290.2 972,290.5 973,290 974,289.3 975,289 976,289.4 977,290.2 978,290.7 979,290.6 980,289.9 981,289.3 982,289.4 983,290 984,290.8 985,291 986,290.5 987,289.8 988,289.5 989,289.9 990,290.7 991,291.2 992,291.1 993,290.4 994,289.9 995,289.9 996,290.5 997,291.3 998,291.5 999,291 1000,290.3 1001,290 1002,290.4 1003,291.1 1004,291.7 1005,291.5 1006,290.8 1007,290.2 1008,290.3 1009,290.9 1010,291.6 1011,291.8 1012,291.3 1013,290.6 1014,290.3 1015,290.6 1016,291.4 1017,291.9 1018,291.8 1019,291.1 1020,290.5 1021,290.5 1022,291.1 1023,291.9 1024,292.1 1025,291.6 1026,290.9 1027,290.5 1028,290.9 1029,291.7 1030,292.2 1031,292 1032,291.3 1033,290.8 1034,290.8 1035,291.4 1036,292.1 1037,292.3 1038,291.8 1039,291.1 1040,290.8 1041,291.2 1042,291.9 1043,292.4 1044,292.3 1045,291.6 1046,291 1047,291 1048,291.7 1049,292.4 1050,292.6 1051,292.1 1052,291.4 1053,291.1 1054,291.4 1055,292.2 1056,292.7 1057,292.5 1058,291.9 1059,291.3 1060,291.3 1061,291.9 1062,292.6 1063,292.8 1064,292.4 1065,291.6 1066,291.3 1067,291.7 1068,292.4 1069,293 1070,292.8 1071,292.1 1072,291.5 1073,291.6 1074,292.2 1075,292.9 1076,293.1 1077,292.6 1078,291.9 1079,291.6 1080,291.9 1081,292.7 1082,293.2 1083,293.1 1084,292.4 1085,291.8 1086,291.8 1087,292.4 1088,293.2 1089,293.4 1090,292.9 1091,292.2 1092,291.8 1093,292.2 1094,293 1095,293.5 1096,293.3 1097,292.6 1098,292.1 1099,292.1 1100,292.7 1101,293.4 1102,293.6 1103,293.1 1104,292.4 1105,292 1106,292.4 1107,293.1 1108,293.6 1109,293.5 1110,292.8 1111,292.2 1112,292.2 1113,292.8 1114,293.5 1115,293.7 1116,293.2 1117,292.5 1118,292.2 1119,292.5 1120,293.3 1121,293.8 1122,293.6 1123,292.9 1124,292.3 1125,292.3 1126,292.9 1127,293.6 1128,293.8 1129,293.3 1130,292.6 1131,292.3 1132,292.6 1133,293.4 1134,293.9 1135,293.7 1136,293 1137,292.4 1138,292.4 1139,293.1 1140,293.8 1141,293.9 1142,293.5 1143,292.7 1144,292.4 1145,292.8 1146,293.5 1147,294 1148,293.8 1149,293.1 1150,292.5 1151,292.6 1152,293.2 1153,293.9 1154,294.1 1155,293.6 1156,292.9 1157,292.5 1158,292.9 1159,293.6 1160,294.1 1161,294 1162,293.3 1163,292.7 1164,292.7 1165,293.3 1166,294 1167,294.2 1168,293.7 1169,293 1170,292.6 1171,293 1172,293.7 1173,294.2 1174,294.1 1175,293.4 1176,292.8 1177,292.8 1178,293.4 1179,294.1 1180,294.3 1181,293.8 1182,293.1 1183,292.8 1184,293.1 1185,293.9 1186,294.4 1187,294.2 1188,293.5 1189,292.9 1190,292.9 1191,293.5 1192,294.2 1193,294.4 1194,293.9 1195,293.2 1196,292.9 1197,293.2 1198,294 1199,294.5 1200,294.3 1201,293.6 1202,293 1203,293 1204,293.6 1205,294.4 1206,294.5 1207,294.1 1208,293.3 1209,293 1210,293.3 1211,294.1 1212,294.6 1213,294.4 1214,293.7 1215,293.1 1216,293.1 1217,293.8 1218,294.5 1219,294.7 1220,294.2 1221,293.4 1222,293.1 1223,293.5 1224,294.2 1225,294.7 1226,294.5 1227,293.9 1228,293.3 1229,293.3 1230,293.9 1231,294.6 1232,294.8 1233,294.3 1234,293.6 1235,293.2 1236,293.6 1237,294.3 1238,294.8 1239,294.7 1240,294 1241,293.4 1242,293.4 1243,294 1244,294.7 1245,294.9 1246,294.4 1247,293.7 1248,293.3 1249,293.7 1250,294.4 1251,294.9 1252,294.8 1253,294.1 1254,293.5 1255,293.5 1256,294.1 1257,294.8 1258,295 1259,294.5 1260,293.8 1261,293.5 1262,293.8 1263,294.6 1264,295.1 1265,294.9 1266,294.2 1267,293.6 1268,293.6 1269,294.2 1270,294.9 1271,295.1 1272,294.6 1273,293.9 1274,293.6 1275,293.9 1276,294.7 1277,295.2 1278,295 1279,294.3 1280,293.7 1281,293.7 1282,294.4 1283,295.1 1284,295.2 1285,294.8 1286,294 1287,293.7 1288,294.1 1289,294.8 1290,295.3 1291,295.1 1292,294.4 1293,293.8 1294,293.9 1295,294.5 1296,295.2 1297,295.4 1298,294.9 1299,294.2 1300,293.8 1301,294.2 1302,294.9 1303,295.4 1304,295.3 1305,294.6 1306,294 1307,294 1308,294.6 1309,295.3 1310,295.5 1311,295 1312,294.3 1313,293.9 1314,294.3 1315,295 1316,295.5 1317,295.4 1318,294.7 1319,294.1 1320,294.1 1321,294.7 1322,295.4 1322,310.3 1321,309.6 1320,309 1319,309 1318,309.6 1317,310.3 1316,310.4 1315,309.9 1314,309.2 1313,308.8 1312,309.2 1311,309.9 1310,310.4 1309,310.2 1308,309.5 1307,308.9 1306,308.9 1305,309.5 1304,310.2 1303,310.3 1302,309.8 1301,309.1 1300,308.7 1299,309.1 1298,309.8 1297,310.3 1296,310.1 1295,309.4 1294,308.8 1293,308.8 1292,309.4 1291,310.1 1290,310.2 1289,309.7 1288,309 1287,308.6 1286,309 1285,309.7 1284,310.2 1283,310 1282,309.3 1281,308.7 1280,308.7 1279,309.3 1278,310 1277,310.1 1276,309.6 1275,308.9 1274,308.5 1273,308.9 1272,309.6 1271,310.1 1270,309.9 1269,309.2 1268,308.6 1267,308.6 1266,309.2 1265,309.8 1264,310 1263,309.5 1262,308.8 1261,308.4 1260,308.7 1259,309.5 1258,310 1257,309.8 1256,309.1 1255,308.5 1254,308.4 1253,309.1 1252,309.7 1251,309.9 1250,309.4 1249,308.7 1248,308.3 1247,308.6 1246,309.4 1245,309.9 1244,309.7 1243,309 1242,308.3 1241,308.3 1240,308.9 1239,309.6 1238,309.8 1237,309.3 1236,308.6 1235,308.2 1234,308.5 1233,309.3 1232,309.7 1231,309.6 1230,308.9 1229,308.2 1228,308.2 1227,308.8 1226,309.5 1225,309.7 1224,309.2 1223,308.4 1222,308.1 1221,308.4 1220,309.2 1219,309.6 1218,309.5 1217,308.8 1216,308.1 1215,308.1 1214,308.7 1213,309.4 1212,309.6 1211,309.1 1210,308.3 1209,308 1208,308.3 1207,309.1 1206,309.5 1205,309.3 1204,308.6 1203,308 1202,308 1201,308.6 1200,309.3 1199,309.5 1198,309 1197,308.2 1196,307.9 1195,308.2 1194,308.9 1193,309.4 1192,309.2 1191,308.5 1190,307.9 1189,307.9 1188,308.5 1187,309.2 1186,309.4 1185,308.9 1184,308.1 1183,307.8 1182,308.1 1181,308.8 1180,309.3 1179,309.1 1178,308.4 1177,307.8 1176,307.8 1175,308.4 1174,309.1 1173,309.3 1172,308.8 1171,308 1170,307.7 1169,308 1168,308.7 1167,309.2 1166,309 1165,308.3 1164,307.7 1163,307.7 1162,308.3 1161,309 1160,309.2 1159,308.7 1158,307.9 1157,307.6 1156,307.9 1155,308.6 1154,309.1 1153,308.9 1152,308.2 1151,307.6 1150,307.6 1149,308.2 1148,308.9 1147,309 1146,308.5 1145,307.8 1144,307.4 1143,307.8 1142,308.5 1141,309 1140,308.8 1139,308.1 1138,307.5 1137,307.5 1136,308.1 1135,308.8 1134,308.9 1133,308.4 1132,307.7 1131,307.3 1130,307.7 1129,308.4 1128,308.9 1127,308.7 1126,308 1125,307.4 1124,307.4 1123,308 1122,308.7 1121,308.8 1120,308.3 1119,307.6 1118,307.2 1117,307.6 1116,308.3 1115,308.8 1114,308.6 1113,307.9 1112,307.3 1111,307.3 1110,307.9 1109,308.6 1108,308.7 1107,308.2 1106,307.5 1105,307.1 1104,307.5 1103,308.2 1102,308.7 1101,308.5 1100,307.8 1099,307.2 1098,307.2 1097,307.8 1096,308.4 1095,308.6 1094,308.1 1093,307.4 1092,307 1091,307.4 1090,308.1 1089,308.5 1088,308.2 1087,307.4 1086,306.7 1085,306.6 1084,307.2 1083,307.8 1082,307.8 1081,307.3 1080,306.4 1079,306 1078,306.3 1077,306.9 1076,307.3 1075,307 1074,306.2 1073,305.5 1072,305.5 1071,306 1070,306.6 1069,306.7 1068,306.1 1067,305.3 1066,304.8 1065,305.1 1064,305.7 1063,306.1 1062,305.8 1061,305.1 1060,304.4 1059,304.3 1058,304.8 1057,305.4 1056,305.5 1055,304.9 1054,304.1 1053,303.6 1052,303.9 1051,304.5 1050,304.9 1049,304.7 1048,303.9 1047,303.2 1046,303.1 1045,303.6 1044,304.2 1043,304.3 1042,303.7 1041,302.9 1040,302.4 1039,302.7 1038,303.3 1037,303.7 1036,303.5 1035,302.7 1034,302 1033,301.9 1032,302.5 1031,303.2 1030,303.3 1029,302.8 1028,302 1027,301.6 1026,301.9 1025,302.6 1024,303.1 1023,302.8 1022,302.1 1021,301.4 1020,301.4 1019,302 1018,302.6 1017,302.8 1016,302.2 1015,301.5 1014,301.1 1013,301.4 1012,302.1 1011,302.5 1010,302.3 1009,301.6 1008,300.9 1007,300.9 1006,301.4 1005,302.1 1004,302.2 1003,301.7 1002,300.9 1001,300.5 1000,300.8 999,301.5 998,302 997,301.8 996,301 995,300.4 994,300.3 993,300.9 992,301.5 991,301.7 990,301.2 989,300.4 988,300 987,300.3 986,301 985,301.4 984,301.2 983,300.5 982,299.8 981,299.8 980,300.4 979,301 978,301.1 977,300.6 976,299.8 975,299.4 974,299.7 973,300.4 972,300.9 971,300.7 970,299.9 969,299.3 968,299.2 967,299.8 966,300.5 965,300.6 964,300.1 963,299.3 962,298.9 961,299.2 960,299.9 959,300.4 958,300.1 957,299.4 956,298.7 955,298.7 954,299.3 953,299.9 952,300.1 951,299.5 950,298.7 949,298.4 948,298.7 947,299.5 946,300 945,299.8 944,299.1 943,298.5 942,298.5 941,299.1 940,299.8 939,299.9 938,299.4 937,298.7 936,298.3 935,298.7 934,299.4 933,299.9 932,299.7 931,299 930,298.4 929,298.4 928,299 927,299.7 926,299.9 925,299.4 924,298.7 923,298.3 922,298.6 921,299.4 920,299.9 919,299.7 918,299 917,298.4 916,298.4 915,299 914,299.7 913,299.8 912,299.3 911,298.6 910,298.3 909,298.6 908,299.3 907,299.8 906,299.6 905,298.9 904,298.3 903,298.3 902,298.9 901,299.6 900,299.8 899,299.3 898,298.6 897,298.2 896,298.5 895,299.3 894,299.8 893,299.6 892,298.9 891,298.3 890,298.3 889,298.9 888,299.6 887,299.7 886,299.3 885,298.5 884,298.2 883,298.5 882,299.2 881,299.7 880,299.5 879,298.8 878,298.2 877,298.2 876,298.8 875,299.5 874,299.7 873,299.2 872,298.5 871,298.1 870,298.5 869,299.2 868,299.7 867,299.5 866,298.8 865,298.2 864,298.2 863,298.8 862,299.5 861,299.7 860,299.2 859,298.4 858,298.1 857,298.4 856,299.1 855,299.6 854,299.4 853,298.8 852,298.1 851,298.1 850,298.7 849,299.4 848,299.6 847,299.1 846,298.4 845,298 844,298.4 843,299.1 842,299.6 841,299.4 840,298.7 839,298.1 838,298.1 837,298.7 836,299.4 835,299.6 834,299.1 833,298.3 832,298 831,298.3 830,299.1 829,299.6 828,299.4 827,298.7 826,298.1 825,298.1 824,298.7 823,299.4 822,299.6 821,299.1 820,298.3 819,298 818,298.3 817,299.1 816,299.6 815,299.4 814,298.7 813,298.1 812,298.1 811,298.7 810,299.4 809,299.6 808,299.1 807,298.3 806,298 805,298.3 804,299.1 803,299.6 802,299.4 801,298.7 800,298.1 799,298.1 798,298.7 797,299.4 796,299.6 795,299.1 794,298.3 793,298 792,298.3 791,299.1 790,299.6 789,299.4 788,298.7 787,298.1 786,298.1 785,298.7 784,299.4 783,299.7 782,299.2 781,298.5 780,298.2 779,298.6 778,299.4 777,299.9 776,299.8 775,299.1 774,299.7 773,301 772,302.9 771,304.8 770,313.3 769,321.2 768,328.7 767,328.4Z" fill="#9e0000"/>
<rect x="1320.5" y="284.5" width="7" height="9" fill="#9e0000"/>
<path d="M772,321 L775.5,318 L778,262 L778.5,256.5 L784,255.5 L784.5,268 L781.5,300 L780.5,331 L777.5,335 L773,334Z" fill="#0000c4"/>
<path d="M778,257.4 779,258.1 780,258.6 781,258.4 782,257.6 783,256.5 784,256 785,257 786,258.4 787,259.7 788,260.3 789,260.2 790,260 791,259.5 792,259.8 793,260.6 794,261.2 795,261.2 796,260.4 797,259.5 798,259 799,259.3 800,260.1 801,260.7 802,260.7 803,259.9 804,259 805,258.6 806,258.9 807,259.6 808,260.2 809,260.2 810,259.4 811,258.5 812,258.1 813,258.4 814,259.1 815,259.8 816,259.7 817,258.9 818,258 819,257.6 820,257.9 821,258.6 822,259.2 823,259.2 824,258.4 825,257.5 826,257 827,257.3 828,258.1 829,258.7 830,258.6 831,257.8 832,256.9 833,256.4 834,256.7 835,257.5 836,258.1 837,258 838,257.2 839,256.3 840,255.8 841,256.1 842,256.9 843,257.5 844,257.4 845,256.6 846,255.7 847,255.2 848,255.5 849,256.3 850,256.9 851,256.9 852,256.2 853,255.4 854,255 855,255.4 856,256.2 857,256.9 858,256.9 859,256.2 860,255.4 861,255 862,255.4 863,256.2 864,256.9 865,256.9 866,256.2 867,255.3 868,255 869,255.3 870,256.2 871,256.9 872,256.9 873,256.2 874,255.3 875,254.9 876,255.3 877,256.2 878,256.8 879,256.8 880,256.2 881,255.3 882,254.9 883,255.3 884,256.2 885,256.8 886,256.8 887,256.1 888,255.3 889,254.9 890,255.3 891,256.1 892,256.8 893,256.8 894,256.1 895,255.3 896,254.9 897,255.3 898,256.1 899,256.8 900,256.8 901,256.2 902,255.4 903,255 904,255.4 905,256.3 906,257 907,257.1 908,256.4 909,255.6 910,255.3 911,255.7 912,256.6 913,257.3 914,257.3 915,256.7 916,255.9 917,255.5 918,255.9 919,256.8 920,257.5 921,257.6 922,256.9 923,256.1 924,255.8 925,256.2 926,257.1 927,257.8 928,257.8 929,257.2 930,256.4 931,256.1 932,256.5 933,257.4 934,258.1 935,258.1 936,257.5 937,256.7 938,256.3 939,256.7 940,257.6 941,258.3 942,258.4 943,257.7 944,256.9 945,256.6 946,257 947,257.9 948,258.6 949,258.6 950,258 951,257.2 952,256.8 953,257.3 954,258.1 955,258.9 956,258.9 957,258.2 958,257.4 959,257.1 960,257.5 961,258.4 962,259.1 963,259.2 964,258.5 965,257.7 966,257.4 967,257.8 968,258.7 969,259.4 970,259.4 971,258.8 972,258 973,257.6 974,258 975,258.9 976,259.6 977,259.7 978,259 979,258.2 980,257.9 981,258.3 982,259.2 983,259.9 984,259.9 985,259.3 986,258.5 987,258.1 988,258.6 989,259.4 990,260.2 991,260.2 992,259.6 993,258.7 994,258.4 995,258.8 996,259.7 997,260.4 998,260.5 999,259.8 1000,259 1001,258.7 1002,259.1 1003,260 1004,260.7 1005,260.7 1006,260.1 1007,259.3 1008,258.9 1009,259.3 1010,260.2 1011,260.9 1012,261 1013,260.3 1014,259.5 1015,259.2 1016,259.6 1017,260.5 1018,261.2 1019,261.2 1020,260.6 1021,259.8 1022,259.5 1023,259.9 1024,260.7 1025,261.5 1026,261.5 1027,260.9 1028,260.1 1029,259.7 1030,260.1 1031,261 1032,261.7 1033,261.8 1034,261.1 1035,260.3 1036,260 1037,260.5 1038,261.4 1039,262.1 1040,262.2 1041,261.6 1042,260.8 1043,260.5 1044,261 1045,261.9 1046,262.6 1047,262.7 1048,262.1 1049,261.3 1050,261 1051,261.5 1052,262.4 1053,263.1 1054,263.2 1055,262.6 1056,261.8 1057,261.5 1058,261.9 1059,262.9 1060,263.6 1061,263.7 1062,263.1 1063,262.3 1064,262 1065,262.4 1066,263.4 1067,264.1 1068,264.2 1069,263.6 1070,262.8 1071,262.5 1072,262.9 1073,263.8 1074,264.6 1075,264.7 1076,264 1077,263.3 1078,263 1079,263.4 1080,264.3 1081,265.1 1082,265.1 1083,264.5 1084,263.8 1085,263.5 1086,263.9 1087,264.8 1088,265.6 1089,265.6 1090,265 1091,264.2 1092,263.9 1093,264.3 1094,265.2 1095,265.9 1096,265.9 1097,265.3 1098,264.5 1099,264.1 1100,264.6 1101,265.4 1102,266.2 1103,266.2 1104,265.5 1105,264.7 1106,264.4 1107,264.8 1108,265.7 1109,266.4 1110,266.5 1111,265.8 1112,265 1113,264.7 1114,265.1 1115,266 1116,266.7 1117,266.7 1118,266.1 1119,265.3 1120,264.9 1121,265.3 1122,266.2 1123,266.9 1124,267 1125,266.3 1126,265.5 1127,265.2 1128,265.6 1129,266.5 1130,267.2 1131,267.2 1132,266.6 1133,265.8 1134,265.5 1135,265.9 1136,266.8 1137,267.5 1138,267.5 1139,266.9 1140,266.1 1141,265.7 1142,266.1 1143,267 1144,267.7 1145,267.8 1146,267.1 1147,266.3 1148,266 1149,266.4 1150,267.3 1151,268 1152,268 1153,267.4 1154,266.6 1155,266.2 1156,266.7 1157,267.5 1158,268.3 1159,268.3 1160,267.7 1161,266.8 1162,266.5 1163,266.9 1164,267.8 1165,268.5 1166,268.6 1167,267.9 1168,267.1 1169,266.8 1170,267.2 1171,268.1 1172,268.8 1173,268.8 1174,268.2 1175,267.4 1176,267 1177,267.4 1178,268.3 1179,269 1180,269.1 1181,268.4 1182,267.6 1183,267.3 1184,267.7 1185,268.6 1186,269.3 1187,269.3 1188,268.7 1189,267.9 1190,267.6 1191,268 1192,268.9 1193,269.6 1194,269.6 1195,269 1196,268.2 1197,267.8 1198,268.2 1199,269.1 1200,269.8 1201,269.9 1202,269.2 1203,268.4 1204,268.1 1205,268.5 1206,269.4 1207,270.1 1208,270.1 1209,269.5 1210,268.7 1211,268.3 1212,268.8 1213,269.6 1214,270.4 1215,270.4 1216,269.8 1217,269 1218,268.6 1219,269 1220,269.9 1221,270.6 1222,270.7 1223,270 1224,269.2 1225,268.9 1226,269.3 1227,270.2 1228,270.9 1229,270.9 1230,270.3 1231,269.5 1232,269.1 1233,269.6 1234,270.4 1235,271.2 1236,271.2 1237,270.5 1238,269.7 1239,269.4 1240,269.8 1241,270.7 1242,271.4 1243,271.5 1244,270.8 1245,270 1246,269.7 1247,270.1 1248,271 1249,271.7 1250,271.7 1251,271.1 1252,270.3 1253,269.9 1254,270.3 1255,271.2 1256,271.9 1257,272 1258,271.3 1259,270.5 1260,270.2 1261,270.6 1262,271.5 1263,272.2 1264,272.2 1265,271.6 1266,270.8 1267,270.5 1268,270.9 1269,271.8 1270,272.5 1271,272.5 1272,271.9 1273,271.1 1274,270.7 1275,271.1 1276,272 1277,272.7 1278,272.8 1279,272.1 1280,271.3 1281,271 1282,271.4 1283,272.3 1284,273 1285,273 1286,272.4 1287,271.6 1288,271.2 1289,271.7 1290,272.5 1291,273.3 1292,273.3 1293,272.7 1294,271.8 1295,271.5 1296,271.9 1297,272.8 1298,273.5 1299,273.6 1300,272.9 1301,272.1 1302,271.8 1303,272.2 1304,273.1 1305,273.8 1306,273.8 1307,273.2 1308,272.4 1309,272 1310,272.4 1311,273.3 1312,274 1313,274.1 1314,273.4 1315,272.6 1316,272.3 1317,272.7 1318,273.6 1319,274.3 1320,274.3 1321,273.7 1322,272.9 1323,272.6 1324,273 1325,273.9 1326,274.6 1327,274.6 1328,274 1329,273.2 1330,272.8 1331,273.2 1332,274.1 1333,274.8 1334,274.9 1335,274.2 1336,273.4 1337,273.1 1338,273.5 1339,274.4 1340,275.1 1341,275.1 1342,274.5 1343,273.7 1344,273.3 1345,273.8 1346,274.6 1347,275.4 1348,275.4 1349,274.8 1350,274 1351,273.6 1352,274 1353,274.9 1354,275.6 1355,275.7 1355.5,275.4 1355.5,284.3 1355,284.6 1354,284.5 1353,283.8 1352,282.9 1351,282.5 1350,282.9 1349,283.7 1348,284.3 1347,284.3 1346,283.6 1345,282.7 1344,282.3 1343,282.6 1342,283.4 1341,284 1340,284 1339,283.3 1338,282.4 1337,282 1336,282.3 1335,283.1 1334,283.8 1333,283.7 1332,283 1331,282.1 1330,281.7 1329,282.1 1328,282.9 1327,283.5 1326,283.5 1325,282.8 1324,281.9 1323,281.5 1322,281.8 1321,282.6 1320,283.3 1319,283.2 1318,282.5 1317,281.6 1316,281.2 1315,281.6 1314,282.4 1313,283 1312,283 1311,282.2 1310,281.4 1309,281 1308,281.3 1307,282.1 1306,282.7 1305,282.7 1304,282 1303,281.1 1302,280.7 1301,281 1300,281.8 1299,282.5 1298,282.4 1297,281.7 1296,280.8 1295,280.4 1294,280.8 1293,281.6 1292,282.2 1291,282.2 1290,281.5 1289,280.6 1288,280.2 1287,280.5 1286,281.3 1285,282 1284,281.9 1283,281.2 1282,280.3 1281,279.9 1280,280.2 1279,281.1 1278,281.7 1277,281.7 1276,280.9 1275,280.1 1274,279.6 1273,280 1272,280.8 1271,281.4 1270,281.4 1269,280.7 1268,279.8 1267,279.4 1266,279.7 1265,280.5 1264,281.2 1263,281.1 1262,280.4 1261,279.5 1260,279.1 1259,279.5 1258,280.3 1257,280.9 1256,280.9 1255,280.2 1254,279.3 1253,278.9 1252,279.2 1251,280 1250,280.7 1249,280.6 1248,279.9 1247,279 1246,278.6 1245,278.9 1244,279.8 1243,280.4 1242,280.4 1241,279.6 1240,278.8 1239,278.3 1238,278.7 1237,279.5 1236,280.1 1235,280.1 1234,279.4 1233,278.5 1232,278.1 1231,278.4 1230,279.2 1229,279.9 1228,279.8 1227,279.1 1226,278.2 1225,277.8 1224,278.2 1223,279 1222,279.6 1221,279.6 1220,278.9 1219,278 1218,277.6 1217,277.9 1216,278.7 1215,279.4 1214,279.3 1213,278.6 1212,277.7 1211,277.3 1210,277.6 1209,278.5 1208,279.1 1207,279.1 1206,278.3 1205,277.5 1204,277 1203,277.4 1202,278.2 1201,278.8 1200,278.8 1199,278.1 1198,277.2 1197,276.8 1196,277.1 1195,277.9 1194,278.6 1193,278.5 1192,277.8 1191,276.9 1190,276.5 1189,276.9 1188,277.7 1187,278.3 1186,278.3 1185,277.6 1184,276.7 1183,276.3 1182,276.6 1181,277.4 1180,278.1 1179,278 1178,277.3 1177,276.4 1176,276 1175,276.3 1174,277.1 1173,277.8 1172,277.8 1171,277 1170,276.2 1169,275.7 1168,276.1 1167,276.9 1166,277.5 1165,277.5 1164,276.8 1163,275.9 1162,275.5 1161,275.8 1160,276.6 1159,277.3 1158,277.2 1157,276.5 1156,275.6 1155,275.2 1154,275.6 1153,276.4 1152,277 1151,277 1150,276.3 1149,275.4 1148,275 1147,275.3 1146,276.1 1145,276.7 1144,276.7 1143,276 1142,275.1 1141,274.7 1140,275 1139,275.8 1138,276.5 1137,276.5 1136,275.7 1135,274.9 1134,274.4 1133,274.8 1132,275.6 1131,276.2 1130,276.2 1129,275.5 1128,274.6 1127,274.2 1126,274.5 1125,275.3 1124,276 1123,275.9 1122,275.2 1121,274.3 1120,273.9 1119,274.3 1118,275.1 1117,275.7 1116,275.7 1115,275 1114,274.1 1113,273.7 1112,274 1111,274.8 1110,275.4 1109,275.4 1108,274.7 1107,273.8 1106,273.4 1105,273.7 1104,274.5 1103,275.2 1102,275.1 1101,274.4 1100,273.5 1099,273.1 1098,273.5 1097,274.3 1096,274.9 1095,274.9 1094,274.2 1093,273.3 1092,272.9 1091,273.2 1090,274 1089,274.6 1088,274.6 1087,273.8 1086,272.9 1085,272.4 1084,272.7 1083,273.5 1082,274.1 1081,274.1 1080,273.3 1079,272.4 1078,271.9 1077,272.2 1076,273 1075,273.6 1074,273.6 1073,272.8 1072,271.9 1071,271.4 1070,271.7 1069,272.5 1068,273.1 1067,273.1 1066,272.3 1065,271.4 1064,270.9 1063,271.2 1062,272 1061,272.6 1060,272.6 1059,271.8 1058,270.9 1057,270.4 1056,270.7 1055,271.5 1054,272.1 1053,272.1 1052,271.3 1051,270.4 1050,269.9 1049,270.2 1048,271 1047,271.6 1046,271.6 1045,270.8 1044,269.9 1043,269.4 1042,269.7 1041,270.5 1040,271.1 1039,271.1 1038,270.3 1037,269.4 1036,268.9 1035,269.2 1034,270 1033,270.7 1032,270.6 1031,269.9 1030,269 1029,268.6 1028,268.9 1027,269.7 1026,270.4 1025,270.3 1024,269.6 1023,268.7 1022,268.3 1021,268.6 1020,269.4 1019,270.1 1018,270 1017,269.3 1016,268.4 1015,268 1014,268.3 1013,269.1 1012,269.7 1011,269.7 1010,269 1009,268.1 1008,267.7 1007,268 1006,268.8 1005,269.4 1004,269.4 1003,268.7 1002,267.8 1001,267.4 1000,267.7 999,268.5 998,269.1 997,269.1 996,268.4 995,267.5 994,267.1 993,267.4 992,268.2 991,268.8 990,268.8 989,268.1 988,267.2 987,266.8 986,267.1 985,267.9 984,268.5 983,268.5 982,267.8 981,266.9 980,266.5 979,266.8 978,267.6 977,268.2 976,268.2 975,267.5 974,266.6 973,266.2 972,266.5 971,267.3 970,267.9 969,267.9 968,267.2 967,266.3 966,265.9 965,266.2 964,267 963,267.6 962,267.6 961,266.9 960,266 959,265.6 958,265.9 957,266.7 956,267.3 955,267.3 954,266.6 953,265.7 952,265.3 951,265.6 950,266.4 949,267 948,267 947,266.3 946,265.4 945,264.9 944,265.3 943,266.1 942,266.7 941,266.7 940,266 939,265.1 938,264.6 937,265 936,265.8 935,266.4 934,266.4 933,265.7 932,264.8 931,264.3 930,264.7 929,265.5 928,266.1 927,266.1 926,265.3 925,264.5 924,264 923,264.4 922,265.2 921,265.8 920,265.8 919,265 918,264.2 917,263.7 916,264.1 915,264.9 914,265.5 913,265.5 912,264.7 911,263.9 910,263.4 909,263.8 908,264.6 907,265.2 906,265.2 905,264.4 904,263.5 903,263.1 902,263.5 901,264.3 900,264.9 899,264.9 898,264.3 897,263.4 896,263.1 895,263.5 894,264.3 893,265 892,265.1 891,264.4 890,263.6 889,263.2 888,263.6 887,264.5 886,265.2 885,265.2 884,264.5 883,263.7 882,263.4 881,263.8 880,264.6 879,265.3 878,265.3 877,264.7 876,263.9 875,263.5 874,263.9 873,264.8 872,265.5 871,265.5 870,264.8 869,264 868,263.6 867,264 866,264.9 865,265.6 864,265.6 863,265 862,264.1 861,263.8 860,264.2 859,265 858,265.7 857,265.8 856,265.1 855,264.3 854,263.9 853,264.3 852,265.2 851,265.9 850,265.9 849,265.3 848,264.5 847,264.2 846,264.7 845,265.6 844,266.4 843,266.5 842,265.9 841,265.1 840,264.8 839,265.3 838,266.2 837,267 836,267.1 835,266.5 834,265.7 833,265.4 832,265.9 831,266.8 830,267.6 829,267.7 828,267.1 827,266.3 826,266 825,266.5 824,267.4 823,268.2 822,268.2 821,267.6 820,266.9 819,266.6 818,267.1 817,268.1 816,268.8 815,269 814,268.4 813,267.6 812,267.4 811,267.9 810,268.8 809,269.6 808,269.7 807,269.2 806,268.4 805,268.1 804,268.6 803,269.6 802,270.4 801,270.5 800,269.9 799,269.2 798,268.9 797,269.4 796,270.4 795,271.2 794,271.3 793,270.7 792,270 791,269.7 790,270.2 789,271 788,271.6 787,271.5 786,270.8 785,269.8 784,269.4 783,269.7 782,270.5 781,271.1 780,271 779,270.3 778,269.4Z" fill="#0000c4"/>
<path d="M764.5,318.4 765.5,317.1 766.5,315.8 767.5,314.8 768.5,314.3 769.5,313.8 770.5,313.3 771.5,312.7 772.5,312 773.5,311.4 774.5,311.4 775.5,311.5 776.5,311.5 777.5,311.1 778.5,310.4 779.5,309.7 780.5,309.4 781.5,309.5 782.5,309.6 783.5,309.4 784.5,308.8 785.5,308.1 786.5,307.6 787.5,307.5 788.5,307.6 789.5,307.6 790.5,307.3 791.5,306.8 792.5,306.3 793.5,306.2 794.5,306.5 795.5,306.8 796.5,306.9 797.5,306.4 798.5,305.9 799.5,305.6 800.5,305.7 801.5,306.1 802.5,306.3 803.5,306.1 804.5,305.5 805.5,305 806.5,304.9 807.5,305.2 808.5,305.6 809.5,305.6 810.5,305.2 811.5,304.6 812.5,304.3 813.5,304.4 814.5,304.8 815.5,305 816.5,304.8 817.5,304.3 818.5,303.8 819.5,303.7 820.5,304 821.5,304.3 822.5,304.3 823.5,303.9 824.5,303.4 825.5,303 826.5,303.2 827.5,303.5 828.5,303.7 829.5,303.5 830.5,303 831.5,302.6 832.5,302.5 833.5,302.8 834.5,303.2 835.5,303.3 836.5,302.9 837.5,302.4 838.5,302.1 839.5,302.3 840.5,302.7 841.5,302.9 842.5,302.8 843.5,302.3 844.5,301.8 845.5,301.8 846.5,302.1 847.5,302.5 848.5,302.5 849.5,302.2 850.5,301.6 851.5,301.4 852.5,301.5 853.5,301.9 854.5,302.2 855.5,302 856.5,301.5 857.5,301.1 858.5,301 859.5,301.4 860.5,301.7 861.5,301.8 862.5,301.4 863.5,300.9 864.5,300.6 865.5,300.8 866.5,301.2 867.5,301.4 868.5,301.3 869.5,300.8 870.5,300.3 871.5,300.3 872.5,300.6 873.5,301 874.5,301 875.5,300.7 876.5,300.2 877.5,299.9 878.5,300 879.5,300.4 880.5,300.7 881.5,300.5 882.5,300 883.5,299.6 884.5,299.5 885.5,299.9 886.5,300.2 887.5,300.3 888.5,299.9 889.5,299.4 890.5,299.1 891.5,299.3 892.5,299.7 893.5,300 894.5,299.8 895.5,299.3 896.5,298.9 897.5,298.8 898.5,299.1 899.5,299.5 900.5,299.6 901.5,299.2 902.5,298.7 903.5,298.5 904.5,298.7 905.5,299.1 906.5,299.4 907.5,299.2 908.5,298.8 909.5,298.4 910.5,298.3 911.5,298.7 912.5,299.1 913.5,299.2 914.5,298.8 915.5,298.3 916.5,298.1 917.5,298.3 918.5,298.7 919.5,299 920.5,298.8 921.5,298.4 922.5,297.9 923.5,297.9 924.5,298.3 925.5,298.7 926.5,298.7 927.5,298.4 928.5,297.9 929.5,297.7 930.5,297.9 931.5,298.3 932.5,298.6 933.5,298.4 934.5,297.9 935.5,297.5 936.5,297.5 937.5,297.9 938.5,298.3 939.5,298.3 940.5,298 941.5,297.5 942.5,297.3 943.5,297.4 944.5,297.9 945.5,298.1 946.5,298 947.5,297.5 948.5,297.1 949.5,297.1 950.5,297.4 951.5,297.8 952.5,297.9 953.5,297.6 954.5,297.1 955.5,296.8 956.5,297 957.5,297.5 958.5,297.7 959.5,297.6 960.5,297.1 961.5,296.7 962.5,296.7 963.5,297.1 964.5,297.5 965.5,297.6 966.5,297.3 967.5,296.8 968.5,296.6 969.5,296.8 970.5,297.2 971.5,297.5 972.5,297.4 973.5,297 974.5,296.6 975.5,296.5 976.5,296.9 977.5,297.3 978.5,297.4 979.5,297.1 980.5,296.6 981.5,296.4 982.5,296.6 983.5,297.1 984.5,297.4 985.5,297.2 986.5,296.8 987.5,296.4 988.5,296.4 989.5,296.7 990.5,297.2 991.5,297.3 992.5,296.9 993.5,296.5 994.5,296.2 995.5,296.4 996.5,296.9 997.5,297.2 998.5,297.1 999.5,296.6 1000.5,296.2 1001.5,296.2 1002.5,296.6 1003.5,297 1004.5,297.1 1005.5,296.8 1006.5,296.3 1007.5,296.1 1008.5,296.3 1009.5,296.7 1010.5,297 1011.5,296.9 1012.5,296.4 1013.5,296 1014.5,296 1015.5,296.4 1016.5,296.8 1017.5,296.9 1018.5,296.6 1019.5,296.1 1020.5,295.9 1021.5,296.1 1022.5,296.5 1023.5,296.8 1024.5,296.7 1025.5,296.3 1026.5,295.9 1027.5,295.8 1028.5,296.2 1029.5,296.6 1030.5,296.7 1031.5,296.4 1032.5,295.9 1033.5,295.7 1034.5,295.9 1035.5,296.4 1036.5,296.7 1037.5,296.6 1038.5,296.1 1039.5,295.7 1040.5,295.7 1041.5,296.1 1042.5,296.6 1043.5,296.7 1044.5,296.4 1045.5,295.9 1046.5,295.7 1047.5,295.9 1048.5,296.4 1049.5,296.7 1050.5,296.5 1051.5,296.1 1052.5,295.7 1053.5,295.7 1054.5,296.1 1055.5,296.5 1056.5,296.6 1057.5,296.3 1058.5,295.9 1059.5,295.7 1060.5,295.9 1061.5,296.3 1062.5,296.6 1063.5,296.5 1064.5,296.1 1065.5,295.7 1066.5,295.7 1067.5,296.1 1068.5,296.5 1069.5,296.6 1070.5,296.3 1071.5,295.8 1072.5,295.6 1073.5,295.8 1074.5,296.3 1075.5,296.6 1076.5,296.5 1077.5,296.1 1078.5,295.7 1079.5,295.7 1080.5,296.1 1081.5,296.5 1082.5,296.6 1083.5,296.3 1084.5,295.8 1085.5,295.6 1086.5,295.8 1087.5,296.3 1088.5,296.6 1089.5,296.5 1090.5,296 1091.5,295.7 1092.5,295.7 1093.5,296.1 1094.5,296.5 1095.5,296.7 1096.5,296.4 1097.5,295.9 1098.5,295.7 1099.5,296 1100.5,296.5 1101.5,296.8 1102.5,296.7 1103.5,296.3 1104.5,295.9 1105.5,295.9 1106.5,296.3 1107.5,296.8 1108.5,296.9 1109.5,296.6 1110.5,296.2 1111.5,296 1112.5,296.2 1113.5,296.7 1114.5,297 1115.5,296.9 1116.5,296.5 1117.5,296.1 1118.5,296.1 1119.5,296.5 1120.5,297 1121.5,297.1 1122.5,296.8 1123.5,296.4 1124.5,296.2 1125.5,296.4 1126.5,296.9 1127.5,297.2 1128.5,297.1 1129.5,296.7 1130.5,296.3 1131.5,296.4 1132.5,296.8 1133.5,297.2 1134.5,297.3 1135.5,297 1136.5,296.6 1137.5,296.4 1138.5,296.6 1139.5,297.1 1140.5,297.4 1141.5,297.3 1142.5,296.9 1143.5,296.6 1144.5,296.6 1145.5,297 1146.5,297.4 1147.5,297.6 1148.5,297.3 1149.5,296.8 1150.5,296.6 1151.5,296.8 1152.5,297.3 1153.5,297.7 1154.5,297.6 1155.5,297.1 1156.5,296.8 1157.5,296.8 1158.5,297.2 1159.5,297.6 1160.5,297.8 1161.5,297.5 1162.5,297 1163.5,296.8 1164.5,297.1 1165.5,297.5 1166.5,297.9 1167.5,297.8 1168.5,297.4 1169.5,297 1170.5,297 1171.5,297.4 1172.5,297.9 1173.5,298 1174.5,297.7 1175.5,297.3 1176.5,297.1 1177.5,297.3 1178.5,297.8 1179.5,298.1 1180.5,298 1181.5,297.6 1182.5,297.2 1183.5,297.2 1184.5,297.6 1185.5,298.1 1186.5,298.2 1187.5,297.9 1188.5,297.5 1189.5,297.3 1190.5,297.5 1191.5,298 1192.5,298.3 1193.5,298.2 1194.5,297.8 1195.5,297.4 1196.5,297.4 1197.5,297.8 1198.5,298.3 1199.5,298.4 1200.5,298.1 1201.5,297.7 1202.5,297.5 1203.5,297.7 1204.5,298.2 1205.5,298.5 1206.5,298.4 1207.5,298 1208.5,297.6 1209.5,297.7 1210.5,298.1 1211.5,298.5 1212.5,298.6 1213.5,298.4 1214.5,297.9 1215.5,297.7 1216.5,297.9 1217.5,298.4 1218.5,298.7 1219.5,298.7 1220.5,298.2 1221.5,297.9 1222.5,297.9 1223.5,298.3 1224.5,298.7 1225.5,298.9 1226.5,298.6 1227.5,298.1 1228.5,297.9 1229.5,298.2 1230.5,298.6 1231.5,299 1232.5,298.9 1233.5,298.5 1234.5,298.1 1235.5,298.1 1236.5,298.5 1237.5,299 1238.5,299.1 1239.5,298.8 1240.5,298.3 1241.5,298.1 1242.5,298.4 1243.5,298.9 1244.5,299.2 1245.5,299.1 1246.5,298.7 1247.5,298.3 1248.5,298.3 1249.5,298.7 1250.5,299.2 1251.5,299.3 1252.5,299 1253.5,298.6 1254.5,298.4 1255.5,298.6 1256.5,299.1 1257.5,299.4 1258.5,299.3 1259.5,298.9 1260.5,298.5 1261.5,298.5 1262.5,298.9 1263.5,299.4 1264.5,299.5 1265.5,299.2 1266.5,298.8 1267.5,298.6 1268.5,298.8 1269.5,299.3 1270.5,299.6 1271.5,299.5 1272.5,299.1 1273.5,298.7 1274.5,298.8 1275.5,299.2 1276.5,299.6 1277.5,299.7 1278.5,299.4 1279.5,299 1280.5,298.8 1281.5,299 1282.5,299.5 1283.5,299.8 1284.5,299.7 1285.5,299.3 1286.5,299 1287.5,299 1288.5,299.4 1289.5,299.8 1290.5,300 1291.5,299.7 1292.5,299.2 1293.5,299 1294.5,299.3 1295.5,299.7 1296.5,300.1 1297.5,300 1298.5,299.5 1299.5,299.2 1300.5,299.2 1301.5,299.6 1302.5,300 1303.5,300.2 1304.5,299.9 1305.5,299.4 1306.5,299.2 1307.5,299.5 1308.5,299.9 1309.5,300.3 1310.5,300.2 1311.5,299.8 1312.5,299.4 1313.5,299.4 1314.5,299.8 1315.5,300.3 1316.5,300.4 1317.5,300.1 1318.5,299.7 1319.5,299.5 1320.5,299.7 1321.5,300.2 1322.5,300.5 1323.5,300.4 1324.5,300 1325.5,299.6 1326.5,299.6 1327.5,300 1328,300.3 1328,309.2 1327.5,308.9 1326.5,308.5 1325.5,308.5 1324.5,308.9 1323.5,309.3 1322.5,309.4 1321.5,309.1 1320.5,308.6 1319.5,308.4 1318.5,308.6 1317.5,309 1316.5,309.3 1315.5,309.2 1314.5,308.8 1313.5,308.4 1312.5,308.4 1311.5,308.7 1310.5,309.2 1309.5,309.3 1308.5,308.9 1307.5,308.5 1306.5,308.2 1305.5,308.4 1304.5,308.9 1303.5,309.2 1302.5,309.1 1301.5,308.6 1300.5,308.2 1299.5,308.2 1298.5,308.6 1297.5,309 1296.5,309.1 1295.5,308.8 1294.5,308.3 1293.5,308.1 1292.5,308.3 1291.5,308.7 1290.5,309 1289.5,308.9 1288.5,308.5 1287.5,308.1 1286.5,308.1 1285.5,308.4 1284.5,308.8 1283.5,308.9 1282.5,308.6 1281.5,308.1 1280.5,307.9 1279.5,308.1 1278.5,308.6 1277.5,308.9 1276.5,308.7 1275.5,308.3 1274.5,307.9 1273.5,307.9 1272.5,308.3 1271.5,308.7 1270.5,308.8 1269.5,308.5 1268.5,308 1267.5,307.8 1266.5,308 1265.5,308.4 1264.5,308.7 1263.5,308.6 1262.5,308.1 1261.5,307.7 1260.5,307.7 1259.5,308.1 1258.5,308.5 1257.5,308.6 1256.5,308.3 1255.5,307.8 1254.5,307.6 1253.5,307.8 1252.5,308.3 1251.5,308.6 1250.5,308.4 1249.5,308 1248.5,307.6 1247.5,307.6 1246.5,307.9 1245.5,308.4 1244.5,308.5 1243.5,308.1 1242.5,307.7 1241.5,307.4 1240.5,307.6 1239.5,308.1 1238.5,308.4 1237.5,308.3 1236.5,307.8 1235.5,307.4 1234.5,307.4 1233.5,307.8 1232.5,308.2 1231.5,308.3 1230.5,308 1229.5,307.5 1228.5,307.3 1227.5,307.5 1226.5,307.9 1225.5,308.2 1224.5,308.1 1223.5,307.7 1222.5,307.3 1221.5,307.3 1220.5,307.6 1219.5,308.1 1218.5,308.2 1217.5,307.8 1216.5,307.4 1215.5,307.1 1214.5,307.3 1213.5,307.8 1212.5,308.1 1211.5,308 1210.5,307.5 1209.5,307.1 1208.5,307.1 1207.5,307.5 1206.5,307.9 1205.5,308 1204.5,307.7 1203.5,307.2 1202.5,307 1201.5,307.2 1200.5,307.6 1199.5,307.9 1198.5,307.8 1197.5,307.3 1196.5,307 1195.5,306.9 1194.5,307.3 1193.5,307.7 1192.5,307.8 1191.5,307.5 1190.5,307 1189.5,306.8 1188.5,307 1187.5,307.5 1186.5,307.8 1185.5,307.6 1184.5,307.2 1183.5,306.8 1182.5,306.8 1181.5,307.2 1180.5,307.6 1179.5,307.7 1178.5,307.4 1177.5,306.9 1176.5,306.7 1175.5,306.9 1174.5,307.3 1173.5,307.6 1172.5,307.5 1171.5,307 1170.5,306.6 1169.5,306.6 1168.5,307 1167.5,307.4 1166.5,307.5 1165.5,307.2 1164.5,306.7 1163.5,306.5 1162.5,306.7 1161.5,307.1 1160.5,307.4 1159.5,307.3 1158.5,306.9 1157.5,306.5 1156.5,306.5 1155.5,306.8 1154.5,307.3 1153.5,307.4 1152.5,307 1151.5,306.6 1150.5,306.3 1149.5,306.5 1148.5,307 1147.5,307.3 1146.5,307.2 1145.5,306.7 1144.5,306.3 1143.5,306.3 1142.5,306.7 1141.5,307.1 1140.5,307.2 1139.5,306.9 1138.5,306.4 1137.5,306.2 1136.5,306.4 1135.5,306.8 1134.5,307.1 1133.5,307 1132.5,306.6 1131.5,306.2 1130.5,306.2 1129.5,306.5 1128.5,306.9 1127.5,307 1126.5,306.7 1125.5,306.2 1124.5,306 1123.5,306.2 1122.5,306.7 1121.5,307 1120.5,306.8 1119.5,306.4 1118.5,306 1117.5,306 1116.5,306.4 1115.5,306.8 1114.5,306.9 1113.5,306.6 1112.5,306.1 1111.5,305.9 1110.5,306.1 1109.5,306.5 1108.5,306.8 1107.5,306.7 1106.5,306.2 1105.5,305.8 1104.5,305.8 1103.5,306.2 1102.5,306.6 1101.5,306.7 1100.5,306.4 1099.5,305.9 1098.5,305.7 1097.5,305.9 1096.5,306.4 1095.5,306.7 1094.5,306.5 1093.5,306.1 1092.5,305.7 1091.5,305.7 1090.5,306 1089.5,306.5 1088.5,306.6 1087.5,306.2 1086.5,305.8 1085.5,305.5 1084.5,305.7 1083.5,306.2 1082.5,306.5 1081.5,306.3 1080.5,305.9 1079.5,305.5 1078.5,305.5 1077.5,305.8 1076.5,306.2 1075.5,306.3 1074.5,306 1073.5,305.5 1072.5,305.3 1071.5,305.5 1070.5,305.9 1069.5,306.2 1068.5,306.1 1067.5,305.6 1066.5,305.2 1065.5,305.2 1064.5,305.6 1063.5,306 1062.5,306.1 1061.5,305.8 1060.5,305.3 1059.5,305.1 1058.5,305.3 1057.5,305.7 1056.5,306 1055.5,305.9 1054.5,305.4 1053.5,305 1052.5,305 1051.5,305.4 1050.5,305.8 1049.5,305.9 1048.5,305.5 1047.5,305.1 1046.5,304.8 1045.5,305 1044.5,305.5 1043.5,305.8 1042.5,305.6 1041.5,305.2 1040.5,304.8 1039.5,304.8 1038.5,305.1 1037.5,305.5 1036.5,305.6 1035.5,305.3 1034.5,304.8 1033.5,304.6 1032.5,304.8 1031.5,305.3 1030.5,305.6 1029.5,305.5 1028.5,305.1 1027.5,304.7 1026.5,304.7 1025.5,305.1 1024.5,305.6 1023.5,305.7 1022.5,305.4 1021.5,305 1020.5,304.8 1019.5,305 1018.5,305.5 1017.5,305.8 1016.5,305.7 1015.5,305.3 1014.5,304.9 1013.5,304.9 1012.5,305.3 1011.5,305.7 1010.5,305.9 1009.5,305.6 1008.5,305.1 1007.5,304.9 1006.5,305.2 1005.5,305.6 1004.5,305.9 1003.5,305.8 1002.5,305.4 1001.5,305.1 1000.5,305.1 999.5,305.5 998.5,305.9 997.5,306 996.5,305.7 995.5,305.3 994.5,305.1 993.5,305.3 992.5,305.8 991.5,306.1 990.5,306 989.5,305.6 988.5,305.2 987.5,305.2 986.5,305.6 985.5,306.1 984.5,306.2 983.5,305.9 982.5,305.4 981.5,305.2 980.5,305.5 979.5,305.9 978.5,306.3 977.5,306.2 976.5,305.7 975.5,305.4 974.5,305.4 973.5,305.8 972.5,306.2 971.5,306.3 970.5,306 969.5,305.6 968.5,305.4 967.5,305.6 966.5,306.1 965.5,306.4 964.5,306.3 963.5,305.9 962.5,305.5 961.5,305.5 960.5,305.9 959.5,306.4 958.5,306.5 957.5,306.3 956.5,305.8 955.5,305.6 954.5,305.9 953.5,306.4 952.5,306.7 951.5,306.7 950.5,306.3 949.5,305.9 948.5,305.9 947.5,306.4 946.5,306.8 945.5,307 944.5,306.7 943.5,306.3 942.5,306.1 941.5,306.3 940.5,306.8 939.5,307.2 938.5,307.1 937.5,306.7 936.5,306.3 935.5,306.4 934.5,306.8 933.5,307.3 932.5,307.4 931.5,307.1 930.5,306.7 929.5,306.5 928.5,306.8 927.5,307.3 926.5,307.6 925.5,307.5 924.5,307.1 923.5,306.8 922.5,306.8 921.5,307.2 920.5,307.7 919.5,307.8 918.5,307.6 917.5,307.1 916.5,306.9 915.5,307.2 914.5,307.7 913.5,308 912.5,308 911.5,307.6 910.5,307.2 909.5,307.2 908.5,307.7 907.5,308.1 906.5,308.3 905.5,308 904.5,307.6 903.5,307.4 902.5,307.6 901.5,308.1 900.5,308.5 899.5,308.4 898.5,308 897.5,307.7 896.5,307.8 895.5,308.2 894.5,308.7 893.5,308.9 892.5,308.6 891.5,308.2 890.5,308 889.5,308.3 888.5,308.8 887.5,309.2 886.5,309.1 885.5,308.8 884.5,308.4 883.5,308.5 882.5,308.9 881.5,309.4 880.5,309.6 879.5,309.3 878.5,308.9 877.5,308.8 876.5,309.1 875.5,309.6 874.5,309.9 873.5,309.9 872.5,309.5 871.5,309.2 870.5,309.2 869.5,309.7 868.5,310.2 867.5,310.3 866.5,310.1 865.5,309.7 864.5,309.5 863.5,309.8 862.5,310.3 861.5,310.7 860.5,310.6 859.5,310.3 858.5,309.9 857.5,310 856.5,310.4 855.5,310.9 854.5,311.1 853.5,310.8 852.5,310.4 851.5,310.3 850.5,310.5 849.5,311.1 848.5,311.4 847.5,311.4 846.5,311 845.5,310.7 844.5,310.7 843.5,311.2 842.5,311.7 841.5,311.8 840.5,311.6 839.5,311.2 838.5,311 837.5,311.3 836.5,311.8 835.5,312.2 834.5,312.1 833.5,311.7 832.5,311.4 831.5,311.5 830.5,311.9 829.5,312.4 828.5,312.7 827.5,312.5 826.5,312.1 825.5,312.1 824.5,312.4 823.5,313 822.5,313.4 821.5,313.4 820.5,313.1 819.5,312.8 818.5,313 817.5,313.5 816.5,314 815.5,314.3 814.5,314.1 813.5,313.7 812.5,313.6 811.5,314 810.5,314.6 809.5,315 808.5,315 807.5,314.7 806.5,314.4 805.5,314.6 804.5,315.1 803.5,315.6 802.5,315.9 801.5,315.7 800.5,315.3 799.5,315.2 798.5,315.6 797.5,316.2 796.5,316.6 795.5,316.6 794.5,316.3 793.5,316 792.5,316.2 791.5,316.7 790.5,317.2 789.5,317.5 788.5,317.4 787.5,317.1 786.5,317.1 785.5,317.5 784.5,318.2 783.5,318.7 782.5,318.8 781.5,318.5 780.5,318.4 779.5,318.6 778.5,319.1 777.5,319.8 776.5,320.1 775.5,320 774.5,319.7 773.5,319.7 772.5,320.1 771.5,320.8 770.5,321.3 769.5,322.1 768.5,323.2 767.5,324.5 766.5,326.1 765.5,328 764.5,330.1Z" fill="#fa8080"/>
<path d="M764,317 765.5,306 767.5,298 771.9,292 779,289 788.5,288.3 850,288.2 900,288.2 1034,290.2 1090,290.6 1327,294.1" fill="none" stroke="#00f8f8" stroke-width="8.5" stroke-linejoin="round"/>
<path d="M788,284.2 789,284.7 790,284.8 791,284.5 792,284 793,283.8 794,284 795,284.5 796,284.8 797,284.7 798,284.2 799,283.9 800,283.9 801,284.2 802,284.7 803,284.8 804,284.5 805,284 806,283.8 807,284 808,284.5 809,284.8 810,284.7 811,284.2 812,283.9 813,283.9 814,284.2 815,284.7 816,284.8 817,284.5 818,284 819,283.8 820,284 821,284.5 822,284.8 823,284.7 824,284.2 825,283.9 826,283.9 827,284.2 828,284.7 829,284.8 830,284.5 831,284 832,283.8 833,284 834,284.5 835,284.8 836,284.7 837,284.2 838,283.9 839,283.9 840,284.2 841,284.7 842,284.8 843,284.5 844,284 845,283.8 846,284 847,284.5 848,284.8 849,284.7 850,284.2 851,283.9 852,283.9 853,284.2 854,284.7 855,284.8 856,284.5 857,284 858,283.8 859,284 860,284.5 861,284.8 862,284.7 863,284.2 864,283.9 865,283.9 866,284.2 867,284.7 868,284.8 869,284.5 870,284 871,283.8 872,284 873,284.5 874,284.8 875,284.7 876,284.2 877,283.9 878,283.9 879,284.2 880,284.7 881,284.8 882,284.5 883,284 884,283.8 885,284 886,284.5 887,284.8 888,284.7 889,284.2 890,283.9 891,283.9 892,284.2 893,284.7 894,284.8 895,284.5 896,284 897,283.8 898,284 899,284.5 900,284.8 901,284.7 902,284.3 903,283.9 904,283.9 905,284.3 906,284.8 907,284.9 908,284.6 909,284.2 910,283.9 911,284.2 912,284.7 913,285 914,284.9 915,284.5 916,284.1 917,284.1 918,284.5 919,285 920,285.1 921,284.8 922,284.3 923,284.1 924,284.4 925,284.9 926,285.2 927,285.1 928,284.7 929,284.3 930,284.3 931,284.7 932,285.2 933,285.3 934,285 935,284.5 936,284.3 937,284.6 938,285 939,285.4 940,285.3 941,284.9 942,284.5 943,284.5 944,284.9 945,285.3 946,285.5 947,285.2 948,284.7 949,284.5 950,284.8 951,285.2 952,285.6 953,285.5 954,285 955,284.7 956,284.7 957,285.1 958,285.5 959,285.7 960,285.4 961,284.9 962,284.7 963,285 964,285.4 965,285.8 966,285.7 967,285.2 968,284.9 969,284.9 970,285.3 971,285.7 972,285.9 973,285.6 974,285.1 975,284.9 976,285.2 977,285.6 978,285.9 979,285.9 980,285.4 981,285.1 982,285.1 983,285.5 984,285.9 985,286.1 986,285.8 987,285.3 988,285.1 989,285.3 990,285.8 991,286.1 992,286 993,285.6 994,285.3 995,285.3 996,285.7 997,286.1 998,286.2 999,286 1000,285.5 1001,285.3 1002,285.5 1003,286 1004,286.3 1005,286.2 1006,285.8 1007,285.5 1008,285.5 1009,285.9 1010,286.3 1011,286.4 1012,286.1 1013,285.7 1014,285.5 1015,285.7 1016,286.2 1017,286.5 1018,286.4 1019,286 1020,285.6 1021,285.7 1022,286.1 1023,286.5 1024,286.6 1025,286.3 1026,285.9 1027,285.7 1028,285.9 1029,286.4 1030,286.7 1031,286.6 1032,286.2 1033,285.8 1034,285.9 1035,286.2 1036,286.7 1037,286.8 1038,286.5 1039,286 1040,285.8 1041,286 1042,286.5 1043,286.8 1044,286.7 1045,286.2 1046,285.8 1047,285.8 1048,286.2 1049,286.6 1050,286.8 1051,286.4 1052,286 1053,285.8 1054,286 1055,286.4 1056,286.7 1057,286.6 1058,286.2 1059,285.8 1060,285.8 1061,286.2 1062,286.6 1063,286.7 1064,286.4 1065,286 1066,285.7 1067,286 1068,286.4 1069,286.7 1070,286.6 1071,286.2 1072,285.8 1073,285.8 1074,286.2 1075,286.6 1076,286.7 1077,286.4 1078,285.9 1079,285.7 1080,285.9 1081,286.4 1082,286.7 1083,286.6 1084,286.2 1085,285.8 1086,285.8 1087,286.1 1088,286.6 1089,286.7 1090,286.4 1091,285.9 1092,285.7 1093,286 1094,286.4 1095,286.7 1096,286.7 1097,286.2 1098,285.9 1099,285.9 1100,286.3 1101,286.7 1102,286.8 1103,286.5 1104,286.1 1105,285.9 1106,286.1 1107,286.6 1108,286.9 1109,286.8 1110,286.4 1111,286 1112,286 1113,286.4 1114,286.9 1115,287 1116,286.7 1117,286.3 1118,286.1 1119,286.3 1120,286.8 1121,287.1 1122,287 1123,286.6 1124,286.2 1125,286.2 1126,286.6 1127,287 1128,287.2 1129,286.9 1130,286.4 1131,286.2 1132,286.4 1133,286.9 1134,287.2 1135,287.1 1136,286.7 1137,286.4 1138,286.4 1139,286.8 1140,287.2 1141,287.3 1142,287 1143,286.6 1144,286.4 1145,286.6 1146,287.1 1147,287.4 1148,287.3 1149,286.9 1150,286.5 1151,286.5 1152,286.9 1153,287.4 1154,287.5 1155,287.2 1156,286.8 1157,286.5 1158,286.8 1159,287.3 1160,287.6 1161,287.5 1162,287.1 1163,286.7 1164,286.7 1165,287.1 1166,287.5 1167,287.7 1168,287.4 1169,286.9 1170,286.7 1171,286.9 1172,287.4 1173,287.7 1174,287.6 1175,287.2 1176,286.8 1177,286.9 1178,287.3 1179,287.7 1180,287.8 1181,287.5 1182,287.1 1183,286.9 1184,287.1 1185,287.6 1186,287.9 1187,287.8 1188,287.4 1189,287 1190,287 1191,287.4 1192,287.9 1193,288 1194,287.7 1195,287.2 1196,287 1197,287.3 1198,287.7 1199,288.1 1200,288 1201,287.5 1202,287.2 1203,287.2 1204,287.6 1205,288 1206,288.2 1207,287.9 1208,287.4 1209,287.2 1210,287.4 1211,287.9 1212,288.2 1213,288.1 1214,287.7 1215,287.3 1216,287.4 1217,287.7 1218,288.2 1219,288.3 1220,288 1221,287.6 1222,287.4 1223,287.6 1224,288.1 1225,288.4 1226,288.3 1227,287.9 1228,287.5 1229,287.5 1230,287.9 1231,288.4 1232,288.5 1233,288.2 1234,287.7 1235,287.5 1236,287.8 1237,288.2 1238,288.6 1239,288.5 1240,288 1241,287.7 1242,287.7 1243,288.1 1244,288.5 1245,288.6 1246,288.4 1247,287.9 1248,287.7 1249,287.9 1250,288.4 1251,288.7 1252,288.6 1253,288.2 1254,287.8 1255,287.8 1256,288.2 1257,288.7 1258,288.8 1259,288.5 1260,288.1 1261,287.9 1262,288.1 1263,288.6 1264,288.9 1265,288.8 1266,288.4 1267,288 1268,288 1269,288.4 1270,288.9 1271,289 1272,288.7 1273,288.2 1274,288 1275,288.3 1276,288.7 1277,289.1 1278,289 1279,288.5 1280,288.2 1281,288.2 1282,288.6 1283,289 1284,289.1 1285,288.8 1286,288.4 1287,288.2 1288,288.4 1289,288.9 1290,289.2 1291,289.1 1292,288.7 1293,288.3 1294,288.3 1295,288.7 1296,289.2 1297,289.3 1298,289 1299,288.6 1300,288.4 1301,288.6 1302,289.1 1303,289.4 1304,289.3 1305,288.9 1306,288.5 1307,288.5 1308,288.9 1309,289.3 1310,289.5 1311,289.2 1312,288.7 1313,288.5 1314,288.8 1315,289.2 1316,289.5 1317,289.4 1318,289 1319,288.7 1320,288.7 1321,289.1 1322,289.5 1323,289.6 1324,289.3 1325,288.9 1326,288.7 1327,288.9 1327.4,289.1 1327.4,299 1327,298.8 1326,298.6 1325,298.8 1324,299.2 1323,299.5 1322,299.4 1321,298.9 1320,298.5 1319,298.5 1318,298.9 1317,299.3 1316,299.4 1315,299.1 1314,298.6 1313,298.4 1312,298.6 1311,299 1310,299.3 1309,299.2 1308,298.7 1307,298.3 1306,298.3 1305,298.7 1304,299.1 1303,299.2 1302,298.9 1301,298.4 1300,298.1 1299,298.3 1298,298.8 1297,299.1 1296,299 1295,298.5 1294,298.1 1293,298.1 1292,298.4 1291,298.9 1290,299 1289,298.6 1288,298.2 1287,297.9 1286,298.1 1285,298.6 1284,298.9 1283,298.7 1282,298.3 1281,297.9 1280,297.9 1279,298.2 1278,298.6 1277,298.7 1276,298.4 1275,297.9 1274,297.7 1273,297.9 1272,298.3 1271,298.6 1270,298.5 1269,298.1 1268,297.7 1267,297.6 1266,298 1265,298.4 1264,298.5 1263,298.2 1262,297.7 1261,297.5 1260,297.7 1259,298.1 1258,298.4 1257,298.3 1256,297.8 1255,297.4 1254,297.4 1253,297.8 1252,298.2 1251,298.3 1250,298 1249,297.5 1248,297.3 1247,297.5 1246,297.9 1245,298.2 1244,298.1 1243,297.6 1242,297.2 1241,297.2 1240,297.6 1239,298 1238,298.1 1237,297.8 1236,297.3 1235,297 1234,297.2 1233,297.7 1232,298 1231,297.9 1230,297.4 1229,297 1228,297 1227,297.4 1226,297.8 1225,297.9 1224,297.5 1223,297.1 1222,296.8 1221,297 1220,297.5 1219,297.8 1218,297.6 1217,297.2 1216,296.8 1215,296.8 1214,297.1 1213,297.6 1212,297.6 1211,297.3 1210,296.8 1209,296.6 1208,296.8 1207,297.3 1206,297.5 1205,297.4 1204,297 1203,296.6 1202,296.5 1201,296.9 1200,297.3 1199,297.4 1198,297.1 1197,296.6 1196,296.4 1195,296.6 1194,297 1193,297.3 1192,297.2 1191,296.7 1190,296.3 1189,296.3 1188,296.7 1187,297.1 1186,297.2 1185,296.9 1184,296.4 1183,296.2 1182,296.4 1181,296.8 1180,297.1 1179,297 1178,296.5 1177,296.1 1176,296.1 1175,296.5 1174,296.9 1173,297 1172,296.7 1171,296.2 1170,296 1169,296.1 1168,296.6 1167,296.9 1166,296.8 1165,296.3 1164,295.9 1163,295.9 1162,296.3 1161,296.7 1160,296.8 1159,296.4 1158,296 1157,295.7 1156,295.9 1155,296.4 1154,296.7 1153,296.5 1152,296.1 1151,295.7 1150,295.7 1149,296 1148,296.5 1147,296.5 1146,296.2 1145,295.7 1144,295.5 1143,295.7 1142,296.2 1141,296.4 1140,296.3 1139,295.9 1138,295.5 1137,295.5 1136,295.8 1135,296.2 1134,296.3 1133,296 1132,295.5 1131,295.3 1130,295.5 1129,295.9 1128,296.2 1127,296.1 1126,295.6 1125,295.2 1124,295.2 1123,295.6 1122,296 1121,296.1 1120,295.8 1119,295.3 1118,295.1 1117,295.3 1116,295.7 1115,296 1114,295.9 1113,295.4 1112,295 1111,295 1110,295.4 1109,295.8 1108,295.9 1107,295.6 1106,295.1 1105,294.9 1104,295.1 1103,295.5 1102,295.8 1101,295.7 1100,295.2 1099,294.8 1098,294.8 1097,295.2 1096,295.6 1095,295.7 1094,295.3 1093,294.9 1092,294.6 1091,294.8 1090,295.3 1089,295.6 1088,295.4 1087,295 1086,294.6 1085,294.6 1084,294.9 1083,295.4 1082,295.5 1081,295.1 1080,294.7 1079,294.4 1078,294.6 1077,295.1 1076,295.4 1075,295.2 1074,294.8 1073,294.4 1072,294.4 1071,294.7 1070,295.2 1069,295.2 1068,294.9 1067,294.4 1066,294.2 1065,294.4 1064,294.9 1063,295.2 1062,295 1061,294.6 1060,294.2 1059,294.2 1058,294.5 1057,294.9 1056,295 1055,294.7 1054,294.2 1053,294 1052,294.2 1051,294.7 1050,294.9 1049,294.8 1048,294.4 1047,294 1046,294 1045,294.3 1044,294.7 1043,294.8 1042,294.5 1041,294 1040,293.8 1039,294 1038,294.4 1037,294.7 1036,294.6 1035,294.2 1034,293.8 1033,293.7 1032,294.1 1031,294.5 1030,294.6 1029,294.3 1028,293.8 1027,293.6 1026,293.8 1025,294.2 1024,294.5 1023,294.4 1022,294 1021,293.6 1020,293.5 1019,293.9 1018,294.3 1017,294.4 1016,294.1 1015,293.6 1014,293.4 1013,293.6 1012,294 1011,294.3 1010,294.2 1009,293.8 1008,293.4 1007,293.4 1006,293.7 1005,294.1 1004,294.2 1003,293.9 1002,293.4 1001,293.2 1000,293.4 999,293.9 998,294.1 997,294 996,293.6 995,293.2 994,293.2 993,293.5 992,293.9 991,294 990,293.7 989,293.2 988,293 987,293.2 986,293.7 985,294 984,293.8 983,293.4 982,293 981,293 980,293.3 979,293.8 978,293.8 977,293.5 976,293.1 975,292.8 974,293 973,293.5 972,293.8 971,293.6 970,293.2 969,292.8 968,292.8 967,293.1 966,293.6 965,293.7 964,293.3 963,292.9 962,292.6 961,292.8 960,293.3 959,293.6 958,293.4 957,293 956,292.6 955,292.6 954,292.9 953,293.4 952,293.5 951,293.1 950,292.7 949,292.4 948,292.6 947,293.1 946,293.4 945,293.2 944,292.8 943,292.4 942,292.4 941,292.8 940,293.2 939,293.3 938,292.9 937,292.5 936,292.2 935,292.4 934,292.9 933,293.2 932,293.1 931,292.6 930,292.2 929,292.2 928,292.6 927,293 926,293.1 925,292.8 924,292.3 923,292 922,292.2 921,292.7 920,293 919,292.9 918,292.4 917,292 916,292 915,292.4 914,292.8 913,292.9 912,292.6 911,292.1 910,291.8 909,292.1 908,292.5 907,292.8 906,292.7 905,292.2 904,291.8 903,291.8 902,292.2 901,292.6 900,292.7 899,292.4 898,291.9 897,291.7 896,292 895,292.4 894,292.7 893,292.6 892,292.2 891,291.8 890,291.8 889,292.2 888,292.7 887,292.8 886,292.5 885,292.1 884,291.8 883,292.1 882,292.5 881,292.9 880,292.8 879,292.3 878,292 877,292 876,292.4 875,292.8 874,292.9 873,292.6 872,292.2 871,292 870,292.2 869,292.7 868,293 867,292.9 866,292.4 865,292.1 864,292.1 863,292.5 862,292.9 861,293 860,292.7 859,292.3 858,292.1 857,292.3 856,292.8 855,293.1 854,293 853,292.6 852,292.2 851,292.2 850,292.6 849,293 848,293.2 847,292.9 846,292.4 845,292.2 844,292.4 843,292.9 842,293.2 841,293.1 840,292.7 839,292.3 838,292.3 837,292.7 836,293.2 835,293.3 834,293 833,292.5 832,292.3 831,292.5 830,293 829,293.3 828,293.2 827,292.8 826,292.4 825,292.4 824,292.8 823,293.3 822,293.4 821,293.1 820,292.6 819,292.4 818,292.7 817,293.1 816,293.4 815,293.3 814,292.9 813,292.5 812,292.6 811,292.9 810,293.4 809,293.5 808,293.2 807,292.8 806,292.6 805,292.8 804,293.3 803,293.6 802,293.5 801,293 800,292.7 799,292.7 798,293.1 797,293.5 796,293.6 795,293.3 794,292.9 793,292.7 792,292.9 791,293.4 790,293.7 789,293.6 788,293.1Z" fill="#00f8f8"/>
<g font-family="Liberation Sans, sans-serif" fill="#000">
<path d="M75,12H667.6V394.7H75Z" fill="none" stroke="#000" stroke-width="2.2" stroke-linejoin="round"/>
<path d="M63.2,391.8H75M63.2,354.2H75M63.2,316.5H75M63.2,278.9H75M63.2,241.2H75M63.2,203.6H75M63.2,165.9H75M63.2,128.2H75M63.2,90.6H75M63.2,52.9H75M63.2,15.3H75M77.7,394.7V406.5M136.4,394.7V406.5M195.1,394.7V406.5M253.8,394.7V406.5M312.5,394.7V406.5M371.1,394.7V406.5M429.8,394.7V406.5M488.5,394.7V406.5M547.2,394.7V406.5M605.9,394.7V406.5M664.6,394.7V406.5" stroke="#000" stroke-width="2" fill="none"/>
<text x="57.7" y="394.4" font-size="18" text-anchor="end">0.0</text>
<text x="57.7" y="356.8" font-size="18" text-anchor="end">0.1</text>
<text x="57.7" y="319.1" font-size="18" text-anchor="end">0.2</text>
<text x="57.7" y="281.5" font-size="18" text-anchor="end">0.3</text>
<text x="57.7" y="243.8" font-size="18" text-anchor="end">0.4</text>
<text x="57.7" y="206.2" font-size="18" text-anchor="end">0.5</text>
<text x="57.7" y="168.5" font-size="18" text-anchor="end">0.6</text>
<text x="57.7" y="130.8" font-size="18" text-anchor="end">0.7</text>
<text x="57.7" y="93.2" font-size="18" text-anchor="end">0.8</text>
<text x="57.7" y="55.5" font-size="18" text-anchor="end">0.9</text>
<text x="57.7" y="17.9" font-size="18" text-anchor="end">1.0</text>
<text x="77.9" y="425.2" font-size="18" text-anchor="middle">0.0</text>
<text x="136.6" y="425.2" font-size="18" text-anchor="middle">0.5</text>
<text x="195.3" y="425.2" font-size="18" text-anchor="middle">1.0</text>
<text x="254" y="425.2" font-size="18" text-anchor="middle">1.5</text>
<text x="312.7" y="425.2" font-size="18" text-anchor="middle">2.0</text>
<text x="371.3" y="425.2" font-size="18" text-anchor="middle">2.5</text>
<text x="430" y="425.2" font-size="18" text-anchor="middle">3.0</text>
<text x="488.7" y="425.2" font-size="18" text-anchor="middle">3.5</text>
<text x="547.4" y="425.2" font-size="18" text-anchor="middle">4.0</text>
<text x="606.1" y="425.2" font-size="18" text-anchor="middle">4.5</text>
<text x="664.8" y="425.2" font-size="18" text-anchor="middle">5.0</text>
<text x="356.2" y="454.6" font-size="20.8" text-anchor="middle">Sliding distance (m)</text>
<text transform="translate(24.6,208.8) rotate(-90)" font-size="20" text-anchor="middle">CoF</text>
<text x="0.4" y="21.4" font-size="25.5">(a)</text>
<text transform="translate(351,381) scale(1,1.14)" font-size="22.4">2 N</text>
<path d="M305.3,28.3H338.6" stroke="#000" stroke-width="2.8"/>
<text x="347.5" y="33.4" font-size="21.7">PMMA</text>
<rect x="186.6" y="45.4" width="34" height="7.3" fill="#9e0000"/>
<rect x="186.6" y="65.9" width="34" height="7.5" fill="#fa8080"/>
<rect x="420" y="45.3" width="34" height="7.3" fill="#0000c4"/>
<rect x="420" y="65.6" width="34" height="7.5" fill="#00f8f8"/>
<text x="229.2" y="56.4" font-size="21.4">SG3</text>
<text x="229.2" y="76.9" font-size="21.6">SG3/CBD/GO</text>
<text x="462.8" y="56.4" font-size="21.4">SG9.5</text>
<text x="462.8" y="76.9" font-size="21.6">SG9.5/CBD/GO</text>
<path d="M764,12H1356.6V394.7H764Z" fill="none" stroke="#000" stroke-width="2.2" stroke-linejoin="round"/>
<path d="M752.2,391.8H764M752.2,354.2H764M752.2,316.5H764M752.2,278.9H764M752.2,241.2H764M752.2,203.6H764M752.2,165.9H764M752.2,128.2H764M752.2,90.6H764M752.2,52.9H764M752.2,15.3H764M766.8,394.7V406.5M825.5,394.7V406.5M884.1,394.7V406.5M942.8,394.7V406.5M1001.5,394.7V406.5M1060.2,394.7V406.5M1118.8,394.7V406.5M1177.5,394.7V406.5M1236.2,394.7V406.5M1294.8,394.7V406.5M1353.5,394.7V406.5" stroke="#000" stroke-width="2" fill="none"/>
<text x="746.7" y="394.4" font-size="18" text-anchor="end">0.0</text>
<text x="746.7" y="356.8" font-size="18" text-anchor="end">0.1</text>
<text x="746.7" y="319.1" font-size="18" text-anchor="end">0.2</text>
<text x="746.7" y="281.5" font-size="18" text-anchor="end">0.3</text>
<text x="746.7" y="243.8" font-size="18" text-anchor="end">0.4</text>
<text x="746.7" y="206.2" font-size="18" text-anchor="end">0.5</text>
<text x="746.7" y="168.5" font-size="18" text-anchor="end">0.6</text>
<text x="746.7" y="130.8" font-size="18" text-anchor="end">0.7</text>
<text x="746.7" y="93.2" font-size="18" text-anchor="end">0.8</text>
<text x="746.7" y="55.5" font-size="18" text-anchor="end">0.9</text>
<text x="746.7" y="17.9" font-size="18" text-anchor="end">1.0</text>
<text x="767" y="425.2" font-size="18" text-anchor="middle">0.0</text>
<text x="825.7" y="425.2" font-size="18" text-anchor="middle">0.5</text>
<text x="884.3" y="425.2" font-size="18" text-anchor="middle">1.0</text>
<text x="943" y="425.2" font-size="18" text-anchor="middle">1.5</text>
<text x="1001.7" y="425.2" font-size="18" text-anchor="middle">2.0</text>
<text x="1060.4" y="425.2" font-size="18" text-anchor="middle">2.5</text>
<text x="1119" y="425.2" font-size="18" text-anchor="middle">3.0</text>
<text x="1177.7" y="425.2" font-size="18" text-anchor="middle">3.5</text>
<text x="1236.4" y="425.2" font-size="18" text-anchor="middle">4.0</text>
<text x="1295" y="425.2" font-size="18" text-anchor="middle">4.5</text>
<text x="1353.7" y="425.2" font-size="18" text-anchor="middle">5.0</text>
<text x="1045.2" y="454.6" font-size="20.8" text-anchor="middle">Sliding distance (m)</text>
<text transform="translate(712.8,208.8) rotate(-90)" font-size="20" text-anchor="middle">CoF</text>
<text x="689.4" y="21.4" font-size="25.5">(b)</text>
<text transform="translate(1048,381) scale(1,1.14)" font-size="22.4">5 N</text>
<path d="M1008.8,29.8H1042.1" stroke="#000" stroke-width="2.8"/>
<text x="1051" y="34.9" font-size="21.7">PMMA</text>
<rect x="890.1" y="46.9" width="34" height="7.3" fill="#9e0000"/>
<rect x="890.1" y="67.4" width="34" height="7.5" fill="#fa8080"/>
<rect x="1123.5" y="46.8" width="34" height="7.3" fill="#0000c4"/>
<rect x="1123.5" y="67.1" width="34" height="7.5" fill="#00f8f8"/>
<text x="932.7" y="57.9" font-size="21.4">SG3</text>
<text x="932.7" y="78.4" font-size="21.6">SG3/CBD/GO</text>
<text x="1166.3" y="57.9" font-size="21.4">SG9.5</text>
<text x="1166.3" y="78.4" font-size="21.6">SG9.5/CBD/GO</text>
</g>
</svg>
</body></html>
